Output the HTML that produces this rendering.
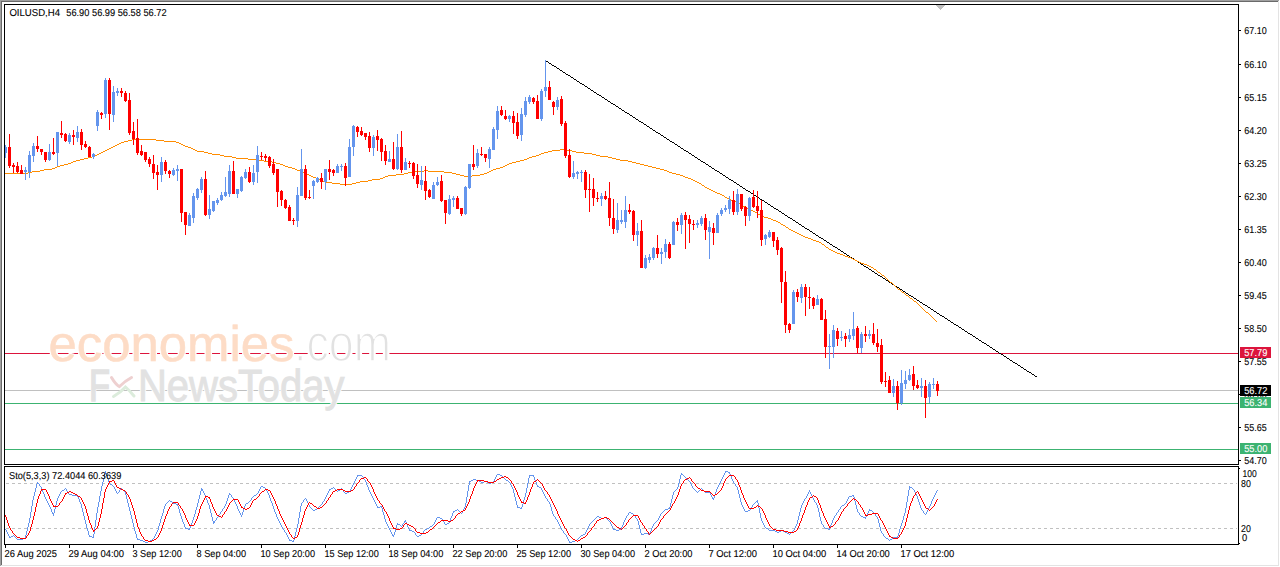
<!DOCTYPE html>
<html><head><meta charset="utf-8"><style>
html,body{margin:0;padding:0;background:#fff;width:1280px;height:567px;overflow:hidden}
svg{display:block;font-family:"Liberation Sans", sans-serif}
</style></head><body>
<svg width="1280" height="567" viewBox="0 0 1280 567" shape-rendering="crispEdges">
<rect x="0" y="0" width="1279" height="1" fill="#a0a0a0"/>
<rect x="1" y="1" width="1277" height="1" fill="#6a6a6a"/>
<rect x="0" y="0" width="1" height="566" fill="#a0a0a0"/>
<rect x="1" y="1" width="1" height="564" fill="#6a6a6a"/>
<rect x="1278" y="1" width="1" height="565" fill="#e3e3e3"/>
<rect x="1" y="565" width="1278" height="1" fill="#e3e3e3"/>
<rect x="5" y="353" width="1233" height="1" fill="#dc143c"/>
<rect x="5" y="390" width="1233" height="1" fill="#c0c0c0"/>
<rect x="5" y="403" width="1233" height="1" fill="#3cb371"/>
<rect x="5" y="449" width="1233" height="1" fill="#3cb371"/>
<g font-family="Liberation Sans, sans-serif" text-rendering="geometricPrecision" shape-rendering="auto">
<text x="48.5" y="361" font-size="50" font-weight="normal" fill="#fff" stroke="#fff" stroke-width="3" stroke-linejoin="round" textLength="246" lengthAdjust="spacingAndGlyphs">economies</text>
<text x="48.5" y="361" font-size="50" font-weight="normal" fill="#fddcc6" stroke="#fddcc6" stroke-width="0.5" textLength="246" lengthAdjust="spacingAndGlyphs">economies</text>
<text x="294" y="361" font-size="52" font-weight="normal" fill="#fff" stroke="#fff" stroke-width="3" stroke-linejoin="round" textLength="97" lengthAdjust="spacingAndGlyphs">.com</text>
<text x="294" y="361" font-size="52" font-weight="normal" fill="#e2e2e2" textLength="97" lengthAdjust="spacingAndGlyphs">.com</text>
<text x="294" y="361" font-size="52" font-weight="normal" fill="none" stroke="#fff" stroke-width="1.6" textLength="97" lengthAdjust="spacingAndGlyphs">.com</text>
<text x="89" y="400.5" font-size="45" font-weight="normal" fill="#fff" stroke="#fff" stroke-width="3" stroke-linejoin="round" textLength="21" lengthAdjust="spacingAndGlyphs">F</text>
<text x="89" y="400.5" font-size="45" font-weight="normal" fill="#e2e2e2" stroke="#e2e2e2" stroke-width="1.6" textLength="21" lengthAdjust="spacingAndGlyphs">F</text>
<text x="138" y="400.5" font-size="45" font-weight="normal" fill="#fff" stroke="#fff" stroke-width="3" stroke-linejoin="round" textLength="206.5" lengthAdjust="spacingAndGlyphs">NewsToday</text>
<text x="138" y="400.5" font-size="45" font-weight="normal" fill="#e2e2e2" stroke="#e2e2e2" stroke-width="0.9" textLength="206.5" lengthAdjust="spacingAndGlyphs">NewsToday</text>
<path d="M111.5 377.5 Q116 385 119.5 386.5 Q125 381 131.5 377.5" stroke="#eed0d0" stroke-width="3" stroke-linecap="round" fill="none"/>
<path d="M113.5 396.5 Q121 392 125.5 387 Q130 391 134 396" stroke="#dcecdc" stroke-width="3" stroke-linecap="round" fill="none"/>
</g>
<path d="M545 60h1v1h-1zM546 61h2v1h-2zM548 62h1v1h-1zM549 63h2v1h-2zM551 64h1v1h-1zM552 65h2v1h-2zM554 66h2v1h-2zM556 67h1v1h-1zM557 68h2v1h-2zM559 69h1v1h-1zM560 70h2v1h-2zM562 71h1v1h-1zM563 72h2v1h-2zM565 73h1v1h-1zM566 74h2v1h-2zM568 75h2v1h-2zM570 76h1v1h-1zM571 77h2v1h-2zM573 78h1v1h-1zM574 79h2v1h-2zM576 80h1v1h-1zM577 81h2v1h-2zM579 82h1v1h-1zM580 83h2v1h-2zM582 84h2v1h-2zM584 85h1v1h-1zM585 86h2v1h-2zM587 87h1v1h-1zM588 88h2v1h-2zM590 89h1v1h-1zM591 90h2v1h-2zM593 91h1v1h-1zM594 92h2v1h-2zM596 93h1v1h-1zM597 94h2v1h-2zM599 95h2v1h-2zM601 96h1v1h-1zM602 97h2v1h-2zM604 98h1v1h-1zM605 99h2v1h-2zM607 100h1v1h-1zM608 101h2v1h-2zM610 102h1v1h-1zM611 103h2v1h-2zM613 104h2v1h-2zM615 105h1v1h-1zM616 106h2v1h-2zM618 107h1v1h-1zM619 108h2v1h-2zM621 109h1v1h-1zM622 110h2v1h-2zM624 111h1v1h-1zM625 112h2v1h-2zM627 113h2v1h-2zM629 114h1v1h-1zM630 115h2v1h-2zM632 116h1v1h-1zM633 117h2v1h-2zM635 118h1v1h-1zM636 119h2v1h-2zM638 120h1v1h-1zM639 121h2v1h-2zM641 122h2v1h-2zM643 123h1v1h-1zM644 124h2v1h-2zM646 125h1v1h-1zM647 126h2v1h-2zM649 127h1v1h-1zM650 128h2v1h-2zM652 129h1v1h-1zM653 130h2v1h-2zM655 131h1v1h-1zM656 132h2v1h-2zM658 133h2v1h-2zM660 134h1v1h-1zM661 135h2v1h-2zM663 136h1v1h-1zM664 137h2v1h-2zM666 138h1v1h-1zM667 139h2v1h-2zM669 140h1v1h-1zM670 141h2v1h-2zM672 142h2v1h-2zM674 143h1v1h-1zM675 144h2v1h-2zM677 145h1v1h-1zM678 146h2v1h-2zM680 147h1v1h-1zM681 148h2v1h-2zM683 149h1v1h-1zM684 150h2v1h-2zM686 151h2v1h-2zM688 152h1v1h-1zM689 153h2v1h-2zM691 154h1v1h-1zM692 155h2v1h-2zM694 156h1v1h-1zM695 157h2v1h-2zM697 158h1v1h-1zM698 159h2v1h-2zM700 160h1v1h-1zM701 161h2v1h-2zM703 162h2v1h-2zM705 163h1v1h-1zM706 164h2v1h-2zM708 165h1v1h-1zM709 166h2v1h-2zM711 167h1v1h-1zM712 168h2v1h-2zM714 169h1v1h-1zM715 170h2v1h-2zM717 171h2v1h-2zM719 172h1v1h-1zM720 173h2v1h-2zM722 174h1v1h-1zM723 175h2v1h-2zM725 176h1v1h-1zM726 177h2v1h-2zM728 178h1v1h-1zM729 179h2v1h-2zM731 180h2v1h-2zM733 181h1v1h-1zM734 182h2v1h-2zM736 183h1v1h-1zM737 184h2v1h-2zM739 185h1v1h-1zM740 186h2v1h-2zM742 187h1v1h-1zM743 188h2v1h-2zM745 189h1v1h-1zM746 190h2v1h-2zM748 191h2v1h-2zM750 192h1v1h-1zM751 193h2v1h-2zM753 194h1v1h-1zM754 195h2v1h-2zM756 196h1v1h-1zM757 197h2v1h-2zM759 198h1v1h-1zM760 199h2v1h-2zM762 200h2v1h-2zM764 201h1v1h-1zM765 202h2v1h-2zM767 203h1v1h-1zM768 204h2v1h-2zM770 205h1v1h-1zM771 206h2v1h-2zM773 207h1v1h-1zM774 208h2v1h-2zM776 209h2v1h-2zM778 210h1v1h-1zM779 211h2v1h-2zM781 212h1v1h-1zM782 213h2v1h-2zM784 214h1v1h-1zM785 215h2v1h-2zM787 216h1v1h-1zM788 217h2v1h-2zM790 218h2v1h-2zM792 219h1v1h-1zM793 220h2v1h-2zM795 221h1v1h-1zM796 222h2v1h-2zM798 223h1v1h-1zM799 224h2v1h-2zM801 225h1v1h-1zM802 226h2v1h-2zM804 227h1v1h-1zM805 228h2v1h-2zM807 229h2v1h-2zM809 230h1v1h-1zM810 231h2v1h-2zM812 232h1v1h-1zM813 233h2v1h-2zM815 234h1v1h-1zM816 235h2v1h-2zM818 236h1v1h-1zM819 237h2v1h-2zM821 238h2v1h-2zM823 239h1v1h-1zM824 240h2v1h-2zM826 241h1v1h-1zM827 242h2v1h-2zM829 243h1v1h-1zM830 244h2v1h-2zM832 245h1v1h-1zM833 246h2v1h-2zM835 247h2v1h-2zM837 248h1v1h-1zM838 249h2v1h-2zM840 250h1v1h-1zM841 251h2v1h-2zM843 252h1v1h-1zM844 253h2v1h-2zM846 254h1v1h-1zM847 255h2v1h-2zM849 256h1v1h-1zM850 257h2v1h-2zM852 258h2v1h-2zM854 259h1v1h-1zM855 260h2v1h-2zM857 261h1v1h-1zM858 262h2v1h-2zM860 263h1v1h-1zM861 264h2v1h-2zM863 265h1v1h-1zM864 266h2v1h-2zM866 267h2v1h-2zM868 268h1v1h-1zM869 269h2v1h-2zM871 270h1v1h-1zM872 271h2v1h-2zM874 272h1v1h-1zM875 273h2v1h-2zM877 274h1v1h-1zM878 275h2v1h-2zM880 276h2v1h-2zM882 277h1v1h-1zM883 278h2v1h-2zM885 279h1v1h-1zM886 280h2v1h-2zM888 281h1v1h-1zM889 282h2v1h-2zM891 283h1v1h-1zM892 284h2v1h-2zM894 285h1v1h-1zM895 286h2v1h-2zM897 287h2v1h-2zM899 288h1v1h-1zM900 289h2v1h-2zM902 290h1v1h-1zM903 291h2v1h-2zM905 292h1v1h-1zM906 293h2v1h-2zM908 294h1v1h-1zM909 295h2v1h-2zM911 296h2v1h-2zM913 297h1v1h-1zM914 298h2v1h-2zM916 299h1v1h-1zM917 300h2v1h-2zM919 301h1v1h-1zM920 302h2v1h-2zM922 303h1v1h-1zM923 304h2v1h-2zM925 305h2v1h-2zM927 306h1v1h-1zM928 307h2v1h-2zM930 308h1v1h-1zM931 309h2v1h-2zM933 310h1v1h-1zM934 311h2v1h-2zM936 312h1v1h-1zM937 313h2v1h-2zM939 314h1v1h-1zM940 315h2v1h-2zM942 316h2v1h-2zM944 317h1v1h-1zM945 318h2v1h-2zM947 319h1v1h-1zM948 320h2v1h-2zM950 321h1v1h-1zM951 322h2v1h-2zM953 323h1v1h-1zM954 324h2v1h-2zM956 325h2v1h-2zM958 326h1v1h-1zM959 327h2v1h-2zM961 328h1v1h-1zM962 329h2v1h-2zM964 330h1v1h-1zM965 331h2v1h-2zM967 332h1v1h-1zM968 333h2v1h-2zM970 334h2v1h-2zM972 335h1v1h-1zM973 336h2v1h-2zM975 337h1v1h-1zM976 338h2v1h-2zM978 339h1v1h-1zM979 340h2v1h-2zM981 341h1v1h-1zM982 342h2v1h-2zM984 343h2v1h-2zM986 344h1v1h-1zM987 345h2v1h-2zM989 346h1v1h-1zM990 347h2v1h-2zM992 348h1v1h-1zM993 349h2v1h-2zM995 350h1v1h-1zM996 351h2v1h-2zM998 352h1v1h-1zM999 353h2v1h-2zM1001 354h2v1h-2zM1003 355h1v1h-1zM1004 356h2v1h-2zM1006 357h1v1h-1zM1007 358h2v1h-2zM1009 359h1v1h-1zM1010 360h2v1h-2zM1012 361h1v1h-1zM1013 362h2v1h-2zM1015 363h2v1h-2zM1017 364h1v1h-1zM1018 365h2v1h-2zM1020 366h1v1h-1zM1021 367h2v1h-2zM1023 368h1v1h-1zM1024 369h2v1h-2zM1026 370h1v1h-1zM1027 371h2v1h-2zM1029 372h2v1h-2zM1031 373h1v1h-1zM1032 374h2v1h-2zM1034 375h1v1h-1zM1035 376h2v1h-2z" fill="#000"/>
<path d="M132 139h24v1h-24zM128 140h4v1h-4zM156 140h8v1h-8zM124 141h4v1h-4zM164 141h12v1h-12zM121 142h3v1h-3zM176 142h3v1h-3zM119 143h2v1h-2zM179 143h2v1h-2zM117 144h2v1h-2zM181 144h2v1h-2zM115 145h2v1h-2zM183 145h2v1h-2zM113 146h2v1h-2zM185 146h3v1h-3zM111 147h2v1h-2zM188 147h3v1h-3zM109 148h2v1h-2zM191 148h2v1h-2zM107 149h2v1h-2zM193 149h2v1h-2zM560 149h4v1h-4zM105 150h2v1h-2zM195 150h2v1h-2zM552 150h8v1h-8zM564 150h8v1h-8zM103 151h2v1h-2zM197 151h7v1h-7zM548 151h4v1h-4zM572 151h4v1h-4zM101 152h2v1h-2zM204 152h4v1h-4zM544 152h4v1h-4zM576 152h8v1h-8zM99 153h2v1h-2zM208 153h4v1h-4zM541 153h3v1h-3zM584 153h8v1h-8zM97 154h2v1h-2zM212 154h8v1h-8zM539 154h2v1h-2zM592 154h4v1h-4zM95 155h2v1h-2zM220 155h4v1h-4zM536 155h3v1h-3zM596 155h4v1h-4zM92 156h3v1h-3zM224 156h8v1h-8zM532 156h4v1h-4zM600 156h8v1h-8zM88 157h4v1h-4zM232 157h4v1h-4zM529 157h3v1h-3zM608 157h4v1h-4zM84 158h4v1h-4zM236 158h12v1h-12zM527 158h2v1h-2zM612 158h4v1h-4zM80 159h4v1h-4zM248 159h8v1h-8zM524 159h3v1h-3zM616 159h4v1h-4zM76 160h4v1h-4zM256 160h8v1h-8zM520 160h4v1h-4zM620 160h8v1h-8zM73 161h3v1h-3zM264 161h8v1h-8zM516 161h4v1h-4zM628 161h4v1h-4zM71 162h2v1h-2zM272 162h4v1h-4zM512 162h4v1h-4zM632 162h4v1h-4zM68 163h3v1h-3zM276 163h4v1h-4zM509 163h3v1h-3zM636 163h4v1h-4zM64 164h4v1h-4zM280 164h3v1h-3zM507 164h2v1h-2zM640 164h4v1h-4zM60 165h4v1h-4zM283 165h2v1h-2zM505 165h2v1h-2zM644 165h4v1h-4zM57 166h3v1h-3zM285 166h3v1h-3zM503 166h2v1h-2zM648 166h4v1h-4zM55 167h2v1h-2zM288 167h4v1h-4zM500 167h3v1h-3zM652 167h4v1h-4zM52 168h3v1h-3zM292 168h3v1h-3zM496 168h4v1h-4zM656 168h4v1h-4zM44 169h8v1h-8zM295 169h2v1h-2zM493 169h3v1h-3zM660 169h4v1h-4zM40 170h4v1h-4zM297 170h3v1h-3zM424 170h4v1h-4zM491 170h2v1h-2zM664 170h3v1h-3zM32 171h8v1h-8zM300 171h3v1h-3zM412 171h12v1h-12zM428 171h16v1h-16zM489 171h2v1h-2zM667 171h2v1h-2zM28 172h4v1h-4zM303 172h2v1h-2zM408 172h4v1h-4zM444 172h8v1h-8zM487 172h2v1h-2zM669 172h3v1h-3zM5 173h23v1h-23zM305 173h2v1h-2zM404 173h4v1h-4zM452 173h4v1h-4zM484 173h3v1h-3zM672 173h4v1h-4zM307 174h2v1h-2zM396 174h8v1h-8zM456 174h4v1h-4zM480 174h4v1h-4zM676 174h4v1h-4zM309 175h2v1h-2zM388 175h8v1h-8zM460 175h4v1h-4zM472 175h8v1h-8zM680 175h3v1h-3zM311 176h2v1h-2zM385 176h3v1h-3zM464 176h8v1h-8zM683 176h2v1h-2zM313 177h3v1h-3zM383 177h2v1h-2zM685 177h3v1h-3zM316 178h3v1h-3zM380 178h3v1h-3zM688 178h3v1h-3zM319 179h2v1h-2zM372 179h8v1h-8zM691 179h2v1h-2zM321 180h2v1h-2zM368 180h4v1h-4zM693 180h2v1h-2zM323 181h2v1h-2zM360 181h8v1h-8zM695 181h2v1h-2zM325 182h7v1h-7zM356 182h4v1h-4zM697 182h2v1h-2zM332 183h8v1h-8zM352 183h4v1h-4zM699 183h2v1h-2zM340 184h12v1h-12zM701 184h1v1h-1zM702 185h2v1h-2zM704 186h1v1h-1zM705 187h2v1h-2zM707 188h2v1h-2zM709 189h2v1h-2zM711 190h2v1h-2zM713 191h2v1h-2zM715 192h2v1h-2zM717 193h3v1h-3zM720 194h2v1h-2zM722 195h2v1h-2zM724 196h1v1h-1zM725 197h2v1h-2zM727 198h2v1h-2zM729 199h2v1h-2zM731 200h2v1h-2zM733 201h3v1h-3zM736 202h2v1h-2zM738 203h2v1h-2zM740 204h1v1h-1zM741 205h2v1h-2zM743 206h2v1h-2zM745 207h2v1h-2zM747 208h2v1h-2zM749 209h2v1h-2zM751 210h2v1h-2zM753 211h2v1h-2zM755 212h2v1h-2zM757 213h1v1h-1zM758 214h2v1h-2zM760 215h1v1h-1zM761 216h3v1h-3zM764 217h4v1h-4zM768 218h3v1h-3zM771 219h2v1h-2zM773 220h3v1h-3zM776 221h2v1h-2zM778 222h2v1h-2zM780 223h1v1h-1zM781 224h2v1h-2zM783 225h2v1h-2zM785 226h1v1h-1zM786 227h2v1h-2zM788 228h1v1h-1zM789 229h2v1h-2zM791 230h2v1h-2zM793 231h2v1h-2zM795 232h2v1h-2zM797 233h2v1h-2zM799 234h2v1h-2zM801 235h2v1h-2zM803 236h2v1h-2zM805 237h3v1h-3zM808 238h3v1h-3zM811 239h2v1h-2zM813 240h3v1h-3zM816 241h3v1h-3zM819 242h2v1h-2zM821 243h1v1h-1zM822 244h2v1h-2zM824 245h1v1h-1zM825 246h1v1h-1zM826 247h2v1h-2zM828 248h1v1h-1zM829 249h2v1h-2zM831 250h2v1h-2zM833 251h2v1h-2zM835 252h2v1h-2zM837 253h3v1h-3zM840 254h3v1h-3zM843 255h2v1h-2zM845 256h3v1h-3zM848 257h3v1h-3zM851 258h2v1h-2zM853 259h2v1h-2zM855 260h2v1h-2zM857 261h2v1h-2zM859 262h2v1h-2zM861 263h3v1h-3zM864 264h3v1h-3zM867 265h2v1h-2zM869 266h2v1h-2zM871 267h2v1h-2zM873 268h1v1h-1zM874 269h2v1h-2zM876 270h1v1h-1zM877 271h1v1h-1zM878 272h2v1h-2zM880 273h1v1h-1zM881 274h1v1h-1zM882 275h2v1h-2zM884 276h1v1h-1zM885 277h1v1h-1zM886 278h1v1h-1zM887 279h1v1h-1zM888 280h1v1h-1zM889 281h1v1h-1zM890 282h2v1h-2zM892 283h1v1h-1zM893 284h1v1h-1zM894 285h1v1h-1zM895 286h1v1h-1zM896 287h1v1h-1zM897 288h1v1h-1zM898 289h2v1h-2zM900 290h1v1h-1zM901 291h1v1h-1zM902 292h2v1h-2zM904 293h1v1h-1zM905 294h1v1h-1zM906 295h2v1h-2zM908 296h1v1h-1zM909 297h1v1h-1zM910 298h2v1h-2zM912 299h1v1h-1zM913 300h1v1h-1zM914 301h2v1h-2zM916 302h1v1h-1zM917 303h1v1h-1zM918 304h1v1h-1zM919 305h1v1h-1zM920 306h1v1h-1zM921 307h1v1h-1zM922 308h1v1h-1zM923 309h1v1h-1zM924 310h1v1h-1zM925 311h1v1h-1zM926 312h2v1h-2zM928 313h1v1h-1zM929 314h1v1h-1zM930 315h1v1h-1zM931 316h1v1h-1zM932 317h1v1h-1zM933 318h1v1h-1zM934 319h1v1h-1zM935 320h1v1h-1zM936 321h1v1h-1z" fill="#ff8c00"/>
<rect x="5" y="145" width="1" height="13" fill="#6495ed"/>
<rect x="4" y="147" width="3" height="6" fill="#6495ed"/>
<rect x="9" y="134" width="1" height="34" fill="#ff0000"/>
<rect x="8" y="147" width="3" height="19" fill="#ff0000"/>
<rect x="13" y="163" width="1" height="10" fill="#ff0000"/>
<rect x="12" y="165" width="3" height="2" fill="#ff0000"/>
<rect x="17" y="162" width="1" height="11" fill="#ff0000"/>
<rect x="16" y="166" width="3" height="6" fill="#ff0000"/>
<rect x="21" y="165" width="1" height="9" fill="#ff0000"/>
<rect x="20" y="170" width="3" height="4" fill="#ff0000"/>
<rect x="25" y="167" width="1" height="13" fill="#6495ed"/>
<rect x="24" y="170" width="3" height="2" fill="#6495ed"/>
<rect x="29" y="151" width="1" height="27" fill="#6495ed"/>
<rect x="28" y="155" width="3" height="17" fill="#6495ed"/>
<rect x="33" y="143" width="1" height="19" fill="#6495ed"/>
<rect x="32" y="146" width="3" height="10" fill="#6495ed"/>
<rect x="37" y="136" width="1" height="16" fill="#ff0000"/>
<rect x="36" y="146" width="3" height="3" fill="#ff0000"/>
<rect x="41" y="149" width="1" height="6" fill="#ff0000"/>
<rect x="40" y="149" width="3" height="3" fill="#ff0000"/>
<rect x="45" y="152" width="1" height="10" fill="#ff0000"/>
<rect x="44" y="152" width="3" height="8" fill="#ff0000"/>
<rect x="49" y="144" width="1" height="17" fill="#6495ed"/>
<rect x="48" y="152" width="3" height="8" fill="#6495ed"/>
<rect x="53" y="138" width="1" height="17" fill="#ff0000"/>
<rect x="52" y="152" width="3" height="2" fill="#ff0000"/>
<rect x="57" y="132" width="1" height="34" fill="#6495ed"/>
<rect x="56" y="132" width="3" height="21" fill="#6495ed"/>
<rect x="61" y="121" width="1" height="17" fill="#ff0000"/>
<rect x="60" y="133" width="3" height="2" fill="#ff0000"/>
<rect x="65" y="133" width="1" height="9" fill="#ff0000"/>
<rect x="64" y="134" width="3" height="7" fill="#ff0000"/>
<rect x="69" y="133" width="1" height="11" fill="#6495ed"/>
<rect x="68" y="135" width="3" height="7" fill="#6495ed"/>
<rect x="73" y="130" width="1" height="15" fill="#ff0000"/>
<rect x="72" y="135" width="3" height="2" fill="#ff0000"/>
<rect x="77" y="126" width="1" height="16" fill="#6495ed"/>
<rect x="76" y="132" width="3" height="6" fill="#6495ed"/>
<rect x="81" y="129" width="1" height="21" fill="#ff0000"/>
<rect x="80" y="132" width="3" height="13" fill="#ff0000"/>
<rect x="85" y="141" width="1" height="7" fill="#ff0000"/>
<rect x="84" y="144" width="3" height="3" fill="#ff0000"/>
<rect x="89" y="146" width="1" height="11" fill="#ff0000"/>
<rect x="88" y="147" width="3" height="10" fill="#ff0000"/>
<rect x="93" y="153" width="1" height="6" fill="#6495ed"/>
<rect x="92" y="154" width="3" height="3" fill="#6495ed"/>
<rect x="97" y="110" width="1" height="21" fill="#6495ed"/>
<rect x="96" y="112" width="3" height="14" fill="#6495ed"/>
<rect x="101" y="112" width="1" height="7" fill="#ff0000"/>
<rect x="100" y="113" width="3" height="2" fill="#ff0000"/>
<rect x="105" y="78" width="1" height="40" fill="#6495ed"/>
<rect x="104" y="80" width="3" height="34" fill="#6495ed"/>
<rect x="109" y="78" width="1" height="52" fill="#ff0000"/>
<rect x="108" y="80" width="3" height="34" fill="#ff0000"/>
<rect x="113" y="86" width="1" height="36" fill="#6495ed"/>
<rect x="112" y="92" width="3" height="23" fill="#6495ed"/>
<rect x="117" y="88" width="1" height="8" fill="#6495ed"/>
<rect x="116" y="91" width="3" height="2" fill="#6495ed"/>
<rect x="121" y="88" width="1" height="9" fill="#ff0000"/>
<rect x="120" y="91" width="3" height="2" fill="#ff0000"/>
<rect x="125" y="91" width="1" height="11" fill="#ff0000"/>
<rect x="124" y="93" width="3" height="8" fill="#ff0000"/>
<rect x="129" y="93" width="1" height="42" fill="#ff0000"/>
<rect x="128" y="100" width="3" height="33" fill="#ff0000"/>
<rect x="133" y="122" width="1" height="23" fill="#ff0000"/>
<rect x="132" y="131" width="3" height="8" fill="#ff0000"/>
<rect x="137" y="119" width="1" height="36" fill="#ff0000"/>
<rect x="136" y="138" width="3" height="15" fill="#ff0000"/>
<rect x="141" y="145" width="1" height="11" fill="#ff0000"/>
<rect x="140" y="151" width="3" height="4" fill="#ff0000"/>
<rect x="145" y="152" width="1" height="10" fill="#ff0000"/>
<rect x="144" y="152" width="3" height="8" fill="#ff0000"/>
<rect x="149" y="157" width="1" height="10" fill="#ff0000"/>
<rect x="148" y="159" width="3" height="5" fill="#ff0000"/>
<rect x="153" y="155" width="1" height="24" fill="#ff0000"/>
<rect x="152" y="164" width="3" height="9" fill="#ff0000"/>
<rect x="157" y="165" width="1" height="25" fill="#ff0000"/>
<rect x="156" y="172" width="3" height="3" fill="#ff0000"/>
<rect x="161" y="157" width="1" height="25" fill="#6495ed"/>
<rect x="160" y="162" width="3" height="13" fill="#6495ed"/>
<rect x="165" y="160" width="1" height="14" fill="#ff0000"/>
<rect x="164" y="162" width="3" height="9" fill="#ff0000"/>
<rect x="169" y="170" width="1" height="8" fill="#ff0000"/>
<rect x="168" y="171" width="3" height="3" fill="#ff0000"/>
<rect x="173" y="168" width="1" height="8" fill="#6495ed"/>
<rect x="172" y="170" width="3" height="5" fill="#6495ed"/>
<rect x="177" y="165" width="1" height="16" fill="#6495ed"/>
<rect x="176" y="169" width="3" height="2" fill="#6495ed"/>
<rect x="181" y="169" width="1" height="53" fill="#ff0000"/>
<rect x="180" y="169" width="3" height="44" fill="#ff0000"/>
<rect x="185" y="212" width="1" height="23" fill="#ff0000"/>
<rect x="184" y="212" width="3" height="13" fill="#ff0000"/>
<rect x="189" y="213" width="1" height="13" fill="#6495ed"/>
<rect x="188" y="215" width="3" height="11" fill="#6495ed"/>
<rect x="193" y="193" width="1" height="30" fill="#6495ed"/>
<rect x="192" y="196" width="3" height="22" fill="#6495ed"/>
<rect x="197" y="188" width="1" height="12" fill="#6495ed"/>
<rect x="196" y="189" width="3" height="9" fill="#6495ed"/>
<rect x="201" y="177" width="1" height="16" fill="#6495ed"/>
<rect x="200" y="179" width="3" height="11" fill="#6495ed"/>
<rect x="205" y="171" width="1" height="45" fill="#ff0000"/>
<rect x="204" y="179" width="3" height="36" fill="#ff0000"/>
<rect x="209" y="195" width="1" height="24" fill="#6495ed"/>
<rect x="208" y="209" width="3" height="6" fill="#6495ed"/>
<rect x="213" y="201" width="1" height="11" fill="#6495ed"/>
<rect x="212" y="201" width="3" height="10" fill="#6495ed"/>
<rect x="217" y="198" width="1" height="7" fill="#6495ed"/>
<rect x="216" y="200" width="3" height="3" fill="#6495ed"/>
<rect x="221" y="192" width="1" height="9" fill="#6495ed"/>
<rect x="220" y="195" width="3" height="5" fill="#6495ed"/>
<rect x="225" y="177" width="1" height="20" fill="#6495ed"/>
<rect x="224" y="192" width="3" height="4" fill="#6495ed"/>
<rect x="229" y="165" width="1" height="32" fill="#6495ed"/>
<rect x="228" y="171" width="3" height="23" fill="#6495ed"/>
<rect x="233" y="161" width="1" height="33" fill="#ff0000"/>
<rect x="232" y="171" width="3" height="23" fill="#ff0000"/>
<rect x="237" y="189" width="1" height="9" fill="#6495ed"/>
<rect x="236" y="189" width="3" height="5" fill="#6495ed"/>
<rect x="241" y="176" width="1" height="16" fill="#6495ed"/>
<rect x="240" y="177" width="3" height="14" fill="#6495ed"/>
<rect x="245" y="169" width="1" height="10" fill="#6495ed"/>
<rect x="244" y="172" width="3" height="6" fill="#6495ed"/>
<rect x="249" y="167" width="1" height="16" fill="#ff0000"/>
<rect x="248" y="172" width="3" height="10" fill="#ff0000"/>
<rect x="253" y="165" width="1" height="20" fill="#6495ed"/>
<rect x="252" y="173" width="3" height="9" fill="#6495ed"/>
<rect x="257" y="146" width="1" height="37" fill="#6495ed"/>
<rect x="256" y="155" width="3" height="17" fill="#6495ed"/>
<rect x="261" y="152" width="1" height="8" fill="#ff0000"/>
<rect x="260" y="156" width="3" height="1" fill="#ff0000"/>
<rect x="265" y="154" width="1" height="7" fill="#ff0000"/>
<rect x="264" y="156" width="3" height="2" fill="#ff0000"/>
<rect x="269" y="156" width="1" height="12" fill="#ff0000"/>
<rect x="268" y="157" width="3" height="9" fill="#ff0000"/>
<rect x="273" y="159" width="1" height="16" fill="#ff0000"/>
<rect x="272" y="164" width="3" height="9" fill="#ff0000"/>
<rect x="277" y="169" width="1" height="38" fill="#ff0000"/>
<rect x="276" y="169" width="3" height="23" fill="#ff0000"/>
<rect x="281" y="190" width="1" height="16" fill="#ff0000"/>
<rect x="280" y="191" width="3" height="9" fill="#ff0000"/>
<rect x="285" y="199" width="1" height="10" fill="#ff0000"/>
<rect x="284" y="200" width="3" height="8" fill="#ff0000"/>
<rect x="289" y="205" width="1" height="16" fill="#ff0000"/>
<rect x="288" y="207" width="3" height="14" fill="#ff0000"/>
<rect x="293" y="218" width="1" height="7" fill="#ff0000"/>
<rect x="292" y="220" width="3" height="1" fill="#ff0000"/>
<rect x="297" y="187" width="1" height="40" fill="#6495ed"/>
<rect x="296" y="195" width="3" height="26" fill="#6495ed"/>
<rect x="301" y="149" width="1" height="47" fill="#6495ed"/>
<rect x="300" y="169" width="3" height="27" fill="#6495ed"/>
<rect x="305" y="165" width="1" height="35" fill="#ff0000"/>
<rect x="304" y="169" width="3" height="29" fill="#ff0000"/>
<rect x="309" y="190" width="1" height="9" fill="#ff0000"/>
<rect x="308" y="197" width="3" height="1" fill="#ff0000"/>
<rect x="313" y="180" width="1" height="19" fill="#6495ed"/>
<rect x="312" y="181" width="3" height="5" fill="#6495ed"/>
<rect x="317" y="177" width="1" height="6" fill="#6495ed"/>
<rect x="316" y="178" width="3" height="4" fill="#6495ed"/>
<rect x="321" y="173" width="1" height="16" fill="#ff0000"/>
<rect x="320" y="178" width="3" height="4" fill="#ff0000"/>
<rect x="325" y="169" width="1" height="21" fill="#6495ed"/>
<rect x="324" y="169" width="3" height="13" fill="#6495ed"/>
<rect x="329" y="160" width="1" height="20" fill="#ff0000"/>
<rect x="328" y="169" width="3" height="3" fill="#ff0000"/>
<rect x="333" y="169" width="1" height="7" fill="#ff0000"/>
<rect x="332" y="170" width="3" height="3" fill="#ff0000"/>
<rect x="337" y="164" width="1" height="9" fill="#6495ed"/>
<rect x="336" y="166" width="3" height="7" fill="#6495ed"/>
<rect x="341" y="164" width="1" height="7" fill="#6495ed"/>
<rect x="340" y="166" width="3" height="1" fill="#6495ed"/>
<rect x="345" y="163" width="1" height="23" fill="#ff0000"/>
<rect x="344" y="166" width="3" height="12" fill="#ff0000"/>
<rect x="349" y="139" width="1" height="38" fill="#6495ed"/>
<rect x="348" y="147" width="3" height="30" fill="#6495ed"/>
<rect x="353" y="125" width="1" height="31" fill="#6495ed"/>
<rect x="352" y="126" width="3" height="21" fill="#6495ed"/>
<rect x="357" y="126" width="1" height="11" fill="#ff0000"/>
<rect x="356" y="127" width="3" height="5" fill="#ff0000"/>
<rect x="361" y="127" width="1" height="9" fill="#ff0000"/>
<rect x="360" y="131" width="3" height="4" fill="#ff0000"/>
<rect x="365" y="133" width="1" height="7" fill="#ff0000"/>
<rect x="364" y="133" width="3" height="4" fill="#ff0000"/>
<rect x="369" y="132" width="1" height="20" fill="#ff0000"/>
<rect x="368" y="136" width="3" height="12" fill="#ff0000"/>
<rect x="373" y="135" width="1" height="21" fill="#6495ed"/>
<rect x="372" y="137" width="3" height="11" fill="#6495ed"/>
<rect x="377" y="130" width="1" height="21" fill="#ff0000"/>
<rect x="376" y="136" width="3" height="4" fill="#ff0000"/>
<rect x="381" y="138" width="1" height="23" fill="#ff0000"/>
<rect x="380" y="139" width="3" height="13" fill="#ff0000"/>
<rect x="385" y="145" width="1" height="20" fill="#ff0000"/>
<rect x="384" y="151" width="3" height="10" fill="#ff0000"/>
<rect x="389" y="151" width="1" height="11" fill="#6495ed"/>
<rect x="388" y="159" width="3" height="3" fill="#6495ed"/>
<rect x="393" y="142" width="1" height="28" fill="#ff0000"/>
<rect x="392" y="159" width="3" height="10" fill="#ff0000"/>
<rect x="397" y="134" width="1" height="36" fill="#6495ed"/>
<rect x="396" y="147" width="3" height="22" fill="#6495ed"/>
<rect x="401" y="131" width="1" height="42" fill="#ff0000"/>
<rect x="400" y="147" width="3" height="23" fill="#ff0000"/>
<rect x="405" y="158" width="1" height="12" fill="#6495ed"/>
<rect x="404" y="162" width="3" height="8" fill="#6495ed"/>
<rect x="409" y="161" width="1" height="7" fill="#ff0000"/>
<rect x="408" y="163" width="3" height="1" fill="#ff0000"/>
<rect x="413" y="162" width="1" height="17" fill="#ff0000"/>
<rect x="412" y="163" width="3" height="13" fill="#ff0000"/>
<rect x="417" y="164" width="1" height="24" fill="#ff0000"/>
<rect x="416" y="175" width="3" height="9" fill="#ff0000"/>
<rect x="421" y="166" width="1" height="24" fill="#6495ed"/>
<rect x="420" y="180" width="3" height="5" fill="#6495ed"/>
<rect x="425" y="166" width="1" height="34" fill="#ff0000"/>
<rect x="424" y="181" width="3" height="10" fill="#ff0000"/>
<rect x="429" y="189" width="1" height="9" fill="#ff0000"/>
<rect x="428" y="190" width="3" height="7" fill="#ff0000"/>
<rect x="433" y="182" width="1" height="17" fill="#6495ed"/>
<rect x="432" y="185" width="3" height="14" fill="#6495ed"/>
<rect x="437" y="177" width="1" height="9" fill="#6495ed"/>
<rect x="436" y="182" width="3" height="3" fill="#6495ed"/>
<rect x="441" y="175" width="1" height="27" fill="#ff0000"/>
<rect x="440" y="181" width="3" height="20" fill="#ff0000"/>
<rect x="445" y="200" width="1" height="24" fill="#ff0000"/>
<rect x="444" y="200" width="3" height="13" fill="#ff0000"/>
<rect x="449" y="195" width="1" height="20" fill="#6495ed"/>
<rect x="448" y="199" width="3" height="15" fill="#6495ed"/>
<rect x="453" y="196" width="1" height="11" fill="#6495ed"/>
<rect x="452" y="198" width="3" height="2" fill="#6495ed"/>
<rect x="457" y="196" width="1" height="13" fill="#ff0000"/>
<rect x="456" y="198" width="3" height="11" fill="#ff0000"/>
<rect x="461" y="208" width="1" height="8" fill="#ff0000"/>
<rect x="460" y="208" width="3" height="6" fill="#ff0000"/>
<rect x="465" y="186" width="1" height="29" fill="#6495ed"/>
<rect x="464" y="187" width="3" height="27" fill="#6495ed"/>
<rect x="469" y="164" width="1" height="25" fill="#6495ed"/>
<rect x="468" y="164" width="3" height="24" fill="#6495ed"/>
<rect x="473" y="145" width="1" height="25" fill="#ff0000"/>
<rect x="472" y="164" width="3" height="3" fill="#ff0000"/>
<rect x="477" y="149" width="1" height="19" fill="#6495ed"/>
<rect x="476" y="153" width="3" height="13" fill="#6495ed"/>
<rect x="481" y="147" width="1" height="9" fill="#ff0000"/>
<rect x="480" y="154" width="3" height="1" fill="#ff0000"/>
<rect x="485" y="154" width="1" height="8" fill="#ff0000"/>
<rect x="484" y="154" width="3" height="4" fill="#ff0000"/>
<rect x="489" y="147" width="1" height="21" fill="#6495ed"/>
<rect x="488" y="149" width="3" height="10" fill="#6495ed"/>
<rect x="493" y="127" width="1" height="23" fill="#6495ed"/>
<rect x="492" y="129" width="3" height="21" fill="#6495ed"/>
<rect x="497" y="106" width="1" height="33" fill="#6495ed"/>
<rect x="496" y="111" width="3" height="19" fill="#6495ed"/>
<rect x="501" y="106" width="1" height="10" fill="#ff0000"/>
<rect x="500" y="110" width="3" height="5" fill="#ff0000"/>
<rect x="505" y="110" width="1" height="10" fill="#ff0000"/>
<rect x="504" y="116" width="3" height="3" fill="#ff0000"/>
<rect x="509" y="115" width="1" height="7" fill="#6495ed"/>
<rect x="508" y="116" width="3" height="3" fill="#6495ed"/>
<rect x="513" y="111" width="1" height="23" fill="#ff0000"/>
<rect x="512" y="116" width="3" height="7" fill="#ff0000"/>
<rect x="517" y="113" width="1" height="26" fill="#ff0000"/>
<rect x="516" y="122" width="3" height="14" fill="#ff0000"/>
<rect x="521" y="108" width="1" height="33" fill="#6495ed"/>
<rect x="520" y="114" width="3" height="21" fill="#6495ed"/>
<rect x="525" y="97" width="1" height="20" fill="#6495ed"/>
<rect x="524" y="101" width="3" height="14" fill="#6495ed"/>
<rect x="529" y="95" width="1" height="9" fill="#6495ed"/>
<rect x="528" y="97" width="3" height="5" fill="#6495ed"/>
<rect x="533" y="97" width="1" height="7" fill="#ff0000"/>
<rect x="532" y="98" width="3" height="4" fill="#ff0000"/>
<rect x="537" y="95" width="1" height="24" fill="#ff0000"/>
<rect x="536" y="101" width="3" height="18" fill="#ff0000"/>
<rect x="541" y="89" width="1" height="32" fill="#6495ed"/>
<rect x="540" y="91" width="3" height="28" fill="#6495ed"/>
<rect x="545" y="60" width="1" height="37" fill="#6495ed"/>
<rect x="544" y="87" width="3" height="4" fill="#6495ed"/>
<rect x="549" y="81" width="1" height="19" fill="#ff0000"/>
<rect x="548" y="87" width="3" height="13" fill="#ff0000"/>
<rect x="553" y="101" width="1" height="14" fill="#ff0000"/>
<rect x="552" y="102" width="3" height="5" fill="#ff0000"/>
<rect x="557" y="97" width="1" height="13" fill="#6495ed"/>
<rect x="556" y="100" width="3" height="7" fill="#6495ed"/>
<rect x="561" y="96" width="1" height="30" fill="#ff0000"/>
<rect x="560" y="99" width="3" height="25" fill="#ff0000"/>
<rect x="565" y="121" width="1" height="37" fill="#ff0000"/>
<rect x="564" y="123" width="3" height="33" fill="#ff0000"/>
<rect x="569" y="149" width="1" height="29" fill="#ff0000"/>
<rect x="568" y="155" width="3" height="22" fill="#ff0000"/>
<rect x="573" y="161" width="1" height="18" fill="#6495ed"/>
<rect x="572" y="173" width="3" height="4" fill="#6495ed"/>
<rect x="577" y="171" width="1" height="8" fill="#6495ed"/>
<rect x="576" y="172" width="3" height="2" fill="#6495ed"/>
<rect x="581" y="170" width="1" height="12" fill="#6495ed"/>
<rect x="580" y="172" width="3" height="1" fill="#6495ed"/>
<rect x="585" y="170" width="1" height="28" fill="#ff0000"/>
<rect x="584" y="172" width="3" height="18" fill="#ff0000"/>
<rect x="589" y="174" width="1" height="38" fill="#ff0000"/>
<rect x="588" y="189" width="3" height="1" fill="#ff0000"/>
<rect x="593" y="178" width="1" height="28" fill="#ff0000"/>
<rect x="592" y="189" width="3" height="9" fill="#ff0000"/>
<rect x="597" y="192" width="1" height="10" fill="#ff0000"/>
<rect x="596" y="198" width="3" height="1" fill="#ff0000"/>
<rect x="601" y="193" width="1" height="13" fill="#6495ed"/>
<rect x="600" y="196" width="3" height="3" fill="#6495ed"/>
<rect x="605" y="191" width="1" height="9" fill="#ff0000"/>
<rect x="604" y="196" width="3" height="3" fill="#ff0000"/>
<rect x="609" y="182" width="1" height="44" fill="#ff0000"/>
<rect x="608" y="198" width="3" height="20" fill="#ff0000"/>
<rect x="613" y="199" width="1" height="35" fill="#ff0000"/>
<rect x="612" y="218" width="3" height="11" fill="#ff0000"/>
<rect x="617" y="203" width="1" height="30" fill="#6495ed"/>
<rect x="616" y="220" width="3" height="10" fill="#6495ed"/>
<rect x="621" y="210" width="1" height="14" fill="#6495ed"/>
<rect x="620" y="220" width="3" height="2" fill="#6495ed"/>
<rect x="625" y="196" width="1" height="32" fill="#6495ed"/>
<rect x="624" y="210" width="3" height="12" fill="#6495ed"/>
<rect x="629" y="204" width="1" height="10" fill="#ff0000"/>
<rect x="628" y="210" width="3" height="2" fill="#ff0000"/>
<rect x="633" y="210" width="1" height="31" fill="#ff0000"/>
<rect x="632" y="211" width="3" height="24" fill="#ff0000"/>
<rect x="637" y="223" width="1" height="23" fill="#6495ed"/>
<rect x="636" y="231" width="3" height="4" fill="#6495ed"/>
<rect x="641" y="220" width="1" height="48" fill="#ff0000"/>
<rect x="640" y="231" width="3" height="37" fill="#ff0000"/>
<rect x="645" y="255" width="1" height="14" fill="#6495ed"/>
<rect x="644" y="258" width="3" height="10" fill="#6495ed"/>
<rect x="649" y="254" width="1" height="9" fill="#6495ed"/>
<rect x="648" y="257" width="3" height="3" fill="#6495ed"/>
<rect x="653" y="247" width="1" height="13" fill="#6495ed"/>
<rect x="652" y="248" width="3" height="10" fill="#6495ed"/>
<rect x="657" y="235" width="1" height="23" fill="#ff0000"/>
<rect x="656" y="248" width="3" height="6" fill="#ff0000"/>
<rect x="661" y="248" width="1" height="16" fill="#6495ed"/>
<rect x="660" y="252" width="3" height="2" fill="#6495ed"/>
<rect x="665" y="239" width="1" height="19" fill="#6495ed"/>
<rect x="664" y="244" width="3" height="8" fill="#6495ed"/>
<rect x="669" y="242" width="1" height="17" fill="#ff0000"/>
<rect x="668" y="244" width="3" height="14" fill="#ff0000"/>
<rect x="673" y="221" width="1" height="24" fill="#6495ed"/>
<rect x="672" y="222" width="3" height="23" fill="#6495ed"/>
<rect x="677" y="218" width="1" height="13" fill="#ff0000"/>
<rect x="676" y="222" width="3" height="3" fill="#ff0000"/>
<rect x="681" y="213" width="1" height="21" fill="#6495ed"/>
<rect x="680" y="215" width="3" height="10" fill="#6495ed"/>
<rect x="685" y="212" width="1" height="37" fill="#ff0000"/>
<rect x="684" y="215" width="3" height="5" fill="#ff0000"/>
<rect x="689" y="215" width="1" height="28" fill="#ff0000"/>
<rect x="688" y="219" width="3" height="5" fill="#ff0000"/>
<rect x="693" y="220" width="1" height="10" fill="#ff0000"/>
<rect x="692" y="224" width="3" height="1" fill="#ff0000"/>
<rect x="697" y="220" width="1" height="8" fill="#6495ed"/>
<rect x="696" y="223" width="3" height="2" fill="#6495ed"/>
<rect x="701" y="216" width="1" height="10" fill="#6495ed"/>
<rect x="700" y="218" width="3" height="6" fill="#6495ed"/>
<rect x="705" y="214" width="1" height="26" fill="#ff0000"/>
<rect x="704" y="218" width="3" height="12" fill="#ff0000"/>
<rect x="709" y="221" width="1" height="38" fill="#6495ed"/>
<rect x="708" y="227" width="3" height="5" fill="#6495ed"/>
<rect x="713" y="223" width="1" height="22" fill="#ff0000"/>
<rect x="712" y="228" width="3" height="5" fill="#ff0000"/>
<rect x="717" y="213" width="1" height="20" fill="#6495ed"/>
<rect x="716" y="215" width="3" height="18" fill="#6495ed"/>
<rect x="721" y="208" width="1" height="8" fill="#6495ed"/>
<rect x="720" y="210" width="3" height="4" fill="#6495ed"/>
<rect x="725" y="205" width="1" height="7" fill="#6495ed"/>
<rect x="724" y="208" width="3" height="2" fill="#6495ed"/>
<rect x="729" y="196" width="1" height="18" fill="#6495ed"/>
<rect x="728" y="200" width="3" height="9" fill="#6495ed"/>
<rect x="733" y="191" width="1" height="24" fill="#ff0000"/>
<rect x="732" y="200" width="3" height="12" fill="#ff0000"/>
<rect x="737" y="189" width="1" height="26" fill="#6495ed"/>
<rect x="736" y="194" width="3" height="18" fill="#6495ed"/>
<rect x="741" y="194" width="1" height="17" fill="#ff0000"/>
<rect x="740" y="194" width="3" height="15" fill="#ff0000"/>
<rect x="745" y="206" width="1" height="20" fill="#ff0000"/>
<rect x="744" y="207" width="3" height="9" fill="#ff0000"/>
<rect x="749" y="197" width="1" height="24" fill="#6495ed"/>
<rect x="748" y="198" width="3" height="18" fill="#6495ed"/>
<rect x="753" y="190" width="1" height="18" fill="#ff0000"/>
<rect x="752" y="197" width="3" height="10" fill="#ff0000"/>
<rect x="757" y="191" width="1" height="27" fill="#ff0000"/>
<rect x="756" y="206" width="3" height="5" fill="#ff0000"/>
<rect x="761" y="200" width="1" height="46" fill="#ff0000"/>
<rect x="760" y="210" width="3" height="30" fill="#ff0000"/>
<rect x="765" y="234" width="1" height="11" fill="#6495ed"/>
<rect x="764" y="235" width="3" height="4" fill="#6495ed"/>
<rect x="769" y="230" width="1" height="8" fill="#6495ed"/>
<rect x="768" y="232" width="3" height="5" fill="#6495ed"/>
<rect x="773" y="232" width="1" height="15" fill="#ff0000"/>
<rect x="772" y="232" width="3" height="9" fill="#ff0000"/>
<rect x="777" y="237" width="1" height="18" fill="#ff0000"/>
<rect x="776" y="240" width="3" height="10" fill="#ff0000"/>
<rect x="781" y="247" width="1" height="56" fill="#ff0000"/>
<rect x="780" y="248" width="3" height="34" fill="#ff0000"/>
<rect x="785" y="271" width="1" height="62" fill="#ff0000"/>
<rect x="784" y="282" width="3" height="43" fill="#ff0000"/>
<rect x="789" y="323" width="1" height="10" fill="#ff0000"/>
<rect x="788" y="324" width="3" height="6" fill="#ff0000"/>
<rect x="793" y="290" width="1" height="34" fill="#6495ed"/>
<rect x="792" y="292" width="3" height="32" fill="#6495ed"/>
<rect x="797" y="289" width="1" height="13" fill="#ff0000"/>
<rect x="796" y="292" width="3" height="5" fill="#ff0000"/>
<rect x="801" y="284" width="1" height="19" fill="#6495ed"/>
<rect x="800" y="287" width="3" height="11" fill="#6495ed"/>
<rect x="805" y="284" width="1" height="32" fill="#ff0000"/>
<rect x="804" y="287" width="3" height="10" fill="#ff0000"/>
<rect x="809" y="287" width="1" height="22" fill="#ff0000"/>
<rect x="808" y="297" width="3" height="1" fill="#ff0000"/>
<rect x="813" y="297" width="1" height="12" fill="#ff0000"/>
<rect x="812" y="298" width="3" height="8" fill="#ff0000"/>
<rect x="817" y="295" width="1" height="10" fill="#6495ed"/>
<rect x="816" y="299" width="3" height="6" fill="#6495ed"/>
<rect x="821" y="298" width="1" height="22" fill="#ff0000"/>
<rect x="820" y="299" width="3" height="21" fill="#ff0000"/>
<rect x="825" y="310" width="1" height="48" fill="#ff0000"/>
<rect x="824" y="319" width="3" height="28" fill="#ff0000"/>
<rect x="829" y="334" width="1" height="35" fill="#6495ed"/>
<rect x="828" y="346" width="3" height="1" fill="#6495ed"/>
<rect x="833" y="325" width="1" height="33" fill="#6495ed"/>
<rect x="832" y="330" width="3" height="17" fill="#6495ed"/>
<rect x="837" y="328" width="1" height="18" fill="#ff0000"/>
<rect x="836" y="331" width="3" height="8" fill="#ff0000"/>
<rect x="841" y="331" width="1" height="10" fill="#6495ed"/>
<rect x="840" y="337" width="3" height="1" fill="#6495ed"/>
<rect x="845" y="333" width="1" height="14" fill="#ff0000"/>
<rect x="844" y="336" width="3" height="3" fill="#ff0000"/>
<rect x="849" y="329" width="1" height="13" fill="#6495ed"/>
<rect x="848" y="335" width="3" height="4" fill="#6495ed"/>
<rect x="853" y="312" width="1" height="28" fill="#6495ed"/>
<rect x="852" y="329" width="3" height="7" fill="#6495ed"/>
<rect x="857" y="326" width="1" height="27" fill="#ff0000"/>
<rect x="856" y="328" width="3" height="20" fill="#ff0000"/>
<rect x="861" y="332" width="1" height="21" fill="#6495ed"/>
<rect x="860" y="334" width="3" height="14" fill="#6495ed"/>
<rect x="865" y="326" width="1" height="16" fill="#ff0000"/>
<rect x="864" y="334" width="3" height="2" fill="#ff0000"/>
<rect x="869" y="330" width="1" height="9" fill="#6495ed"/>
<rect x="868" y="334" width="3" height="2" fill="#6495ed"/>
<rect x="873" y="323" width="1" height="22" fill="#ff0000"/>
<rect x="872" y="334" width="3" height="9" fill="#ff0000"/>
<rect x="877" y="329" width="1" height="23" fill="#ff0000"/>
<rect x="876" y="343" width="3" height="4" fill="#ff0000"/>
<rect x="881" y="339" width="1" height="45" fill="#ff0000"/>
<rect x="880" y="345" width="3" height="37" fill="#ff0000"/>
<rect x="885" y="372" width="1" height="15" fill="#ff0000"/>
<rect x="884" y="381" width="3" height="1" fill="#ff0000"/>
<rect x="889" y="376" width="1" height="17" fill="#ff0000"/>
<rect x="888" y="380" width="3" height="13" fill="#ff0000"/>
<rect x="893" y="379" width="1" height="18" fill="#6495ed"/>
<rect x="892" y="386" width="3" height="7" fill="#6495ed"/>
<rect x="897" y="381" width="1" height="29" fill="#ff0000"/>
<rect x="896" y="386" width="3" height="17" fill="#ff0000"/>
<rect x="901" y="370" width="1" height="35" fill="#6495ed"/>
<rect x="900" y="383" width="3" height="20" fill="#6495ed"/>
<rect x="905" y="371" width="1" height="18" fill="#6495ed"/>
<rect x="904" y="380" width="3" height="4" fill="#6495ed"/>
<rect x="909" y="369" width="1" height="12" fill="#6495ed"/>
<rect x="908" y="375" width="3" height="5" fill="#6495ed"/>
<rect x="913" y="366" width="1" height="24" fill="#ff0000"/>
<rect x="912" y="374" width="3" height="12" fill="#ff0000"/>
<rect x="917" y="380" width="1" height="9" fill="#ff0000"/>
<rect x="916" y="385" width="3" height="3" fill="#ff0000"/>
<rect x="921" y="378" width="1" height="19" fill="#6495ed"/>
<rect x="920" y="386" width="3" height="2" fill="#6495ed"/>
<rect x="925" y="380" width="1" height="38" fill="#ff0000"/>
<rect x="924" y="386" width="3" height="12" fill="#ff0000"/>
<rect x="929" y="382" width="1" height="21" fill="#6495ed"/>
<rect x="928" y="384" width="3" height="13" fill="#6495ed"/>
<rect x="933" y="378" width="1" height="11" fill="#6495ed"/>
<rect x="932" y="384" width="3" height="1" fill="#6495ed"/>
<rect x="937" y="381" width="1" height="15" fill="#ff0000"/>
<rect x="936" y="384" width="3" height="7" fill="#ff0000"/>
<rect x="2" y="2" width="2" height="563" fill="#fff"/>
<rect x="4" y="4" width="1235" height="1" fill="#000"/>
<rect x="4" y="464" width="1235" height="1" fill="#000"/>
<rect x="4" y="4" width="1" height="461" fill="#000"/>
<rect x="1238" y="4" width="1" height="461" fill="#000"/>
<rect x="4" y="466" width="1235" height="1" fill="#000"/>
<rect x="4" y="544" width="1235" height="1" fill="#000"/>
<rect x="4" y="466" width="1" height="79" fill="#000"/>
<rect x="1238" y="466" width="1" height="79" fill="#000"/>
<polygon points="935.5,5 945.5,5 940.5,10" fill="#c0c0c0"/>
<rect x="1239" y="30" width="2" height="1" fill="#000"/>
<text x="1244.3" y="34" font-size="10" fill="#000" stroke="#000" stroke-width="0.1" text-rendering="geometricPrecision" textLength="22.5" lengthAdjust="spacingAndGlyphs">67.10</text>
<rect x="1239" y="64" width="2" height="1" fill="#000"/>
<text x="1244.3" y="68" font-size="10" fill="#000" stroke="#000" stroke-width="0.1" text-rendering="geometricPrecision" textLength="22.5" lengthAdjust="spacingAndGlyphs">66.10</text>
<rect x="1239" y="97" width="2" height="1" fill="#000"/>
<text x="1244.3" y="101" font-size="10" fill="#000" stroke="#000" stroke-width="0.1" text-rendering="geometricPrecision" textLength="22.5" lengthAdjust="spacingAndGlyphs">65.15</text>
<rect x="1239" y="130" width="2" height="1" fill="#000"/>
<text x="1244.3" y="134" font-size="10" fill="#000" stroke="#000" stroke-width="0.1" text-rendering="geometricPrecision" textLength="22.5" lengthAdjust="spacingAndGlyphs">64.20</text>
<rect x="1239" y="163" width="2" height="1" fill="#000"/>
<text x="1244.3" y="167" font-size="10" fill="#000" stroke="#000" stroke-width="0.1" text-rendering="geometricPrecision" textLength="22.5" lengthAdjust="spacingAndGlyphs">63.25</text>
<rect x="1239" y="196" width="2" height="1" fill="#000"/>
<text x="1244.3" y="200" font-size="10" fill="#000" stroke="#000" stroke-width="0.1" text-rendering="geometricPrecision" textLength="22.5" lengthAdjust="spacingAndGlyphs">62.30</text>
<rect x="1239" y="229" width="2" height="1" fill="#000"/>
<text x="1244.3" y="233" font-size="10" fill="#000" stroke="#000" stroke-width="0.1" text-rendering="geometricPrecision" textLength="22.5" lengthAdjust="spacingAndGlyphs">61.35</text>
<rect x="1239" y="262" width="2" height="1" fill="#000"/>
<text x="1244.3" y="266" font-size="10" fill="#000" stroke="#000" stroke-width="0.1" text-rendering="geometricPrecision" textLength="22.5" lengthAdjust="spacingAndGlyphs">60.40</text>
<rect x="1239" y="295" width="2" height="1" fill="#000"/>
<text x="1244.3" y="299" font-size="10" fill="#000" stroke="#000" stroke-width="0.1" text-rendering="geometricPrecision" textLength="22.5" lengthAdjust="spacingAndGlyphs">59.45</text>
<rect x="1239" y="328" width="2" height="1" fill="#000"/>
<text x="1244.3" y="332" font-size="10" fill="#000" stroke="#000" stroke-width="0.1" text-rendering="geometricPrecision" textLength="22.5" lengthAdjust="spacingAndGlyphs">58.50</text>
<rect x="1239" y="361" width="2" height="1" fill="#000"/>
<text x="1244.3" y="365" font-size="10" fill="#000" stroke="#000" stroke-width="0.1" text-rendering="geometricPrecision" textLength="22.5" lengthAdjust="spacingAndGlyphs">57.55</text>
<rect x="1239" y="394" width="2" height="1" fill="#000"/>
<text x="1244.3" y="398" font-size="10" fill="#000" stroke="#000" stroke-width="0.1" text-rendering="geometricPrecision" textLength="22.5" lengthAdjust="spacingAndGlyphs">56.60</text>
<rect x="1239" y="427" width="2" height="1" fill="#000"/>
<text x="1244.3" y="431" font-size="10" fill="#000" stroke="#000" stroke-width="0.1" text-rendering="geometricPrecision" textLength="22.5" lengthAdjust="spacingAndGlyphs">55.65</text>
<rect x="1239" y="460" width="2" height="1" fill="#000"/>
<text x="1244.3" y="464" font-size="10" fill="#000" stroke="#000" stroke-width="0.1" text-rendering="geometricPrecision" textLength="22.5" lengthAdjust="spacingAndGlyphs">54.70</text>
<rect x="1240" y="347" width="31" height="11" fill="#dc143c"/>
<text x="1244.2" y="356" font-size="10" fill="#fff" stroke="#fff" stroke-width="0.1" text-rendering="geometricPrecision" textLength="23.2" lengthAdjust="spacingAndGlyphs">57.79</text>
<rect x="1240" y="385" width="31" height="11" fill="#000000"/>
<text x="1244.2" y="394" font-size="10" fill="#fff" stroke="#fff" stroke-width="0.1" text-rendering="geometricPrecision" textLength="23.2" lengthAdjust="spacingAndGlyphs">56.72</text>
<rect x="1240" y="397" width="31" height="11" fill="#3cb371"/>
<text x="1244.2" y="406" font-size="10" fill="#fff" stroke="#fff" stroke-width="0.1" text-rendering="geometricPrecision" textLength="23.2" lengthAdjust="spacingAndGlyphs">56.34</text>
<rect x="1240" y="443" width="31" height="11" fill="#3cb371"/>
<text x="1244.2" y="452" font-size="10" fill="#fff" stroke="#fff" stroke-width="0.1" text-rendering="geometricPrecision" textLength="23.2" lengthAdjust="spacingAndGlyphs">55.00</text>
<text x="9.4" y="16" font-size="10" fill="#000" stroke="#000" stroke-width="0.1" text-rendering="geometricPrecision" textLength="50.6" lengthAdjust="spacingAndGlyphs">OILUSD,H4</text>
<text x="66.25" y="16" font-size="10" fill="#000" stroke="#000" stroke-width="0.1" text-rendering="geometricPrecision" textLength="100.35" lengthAdjust="spacingAndGlyphs">56.90 56.99 56.58 56.72</text>
<rect x="5" y="545" width="1" height="3" fill="#000"/>
<text x="4.5" y="557" font-size="10" fill="#000" stroke="#000" stroke-width="0.1" text-rendering="geometricPrecision" textLength="52.5" lengthAdjust="spacingAndGlyphs">26 Aug 2025</text>
<rect x="69" y="545" width="1" height="3" fill="#000"/>
<text x="68.5" y="557" font-size="10" fill="#000" stroke="#000" stroke-width="0.1" text-rendering="geometricPrecision" textLength="55.5" lengthAdjust="spacingAndGlyphs">29 Aug 04:00</text>
<rect x="133" y="545" width="1" height="3" fill="#000"/>
<text x="132.5" y="557" font-size="10" fill="#000" stroke="#000" stroke-width="0.1" text-rendering="geometricPrecision" textLength="49.25" lengthAdjust="spacingAndGlyphs">3 Sep 12:00</text>
<rect x="197" y="545" width="1" height="3" fill="#000"/>
<text x="196.5" y="557" font-size="10" fill="#000" stroke="#000" stroke-width="0.1" text-rendering="geometricPrecision" textLength="49.5" lengthAdjust="spacingAndGlyphs">8 Sep 04:00</text>
<rect x="261" y="545" width="1" height="3" fill="#000"/>
<text x="260.5" y="557" font-size="10" fill="#000" stroke="#000" stroke-width="0.1" text-rendering="geometricPrecision" textLength="54.5" lengthAdjust="spacingAndGlyphs">10 Sep 20:00</text>
<rect x="325" y="545" width="1" height="3" fill="#000"/>
<text x="324.5" y="557" font-size="10" fill="#000" stroke="#000" stroke-width="0.1" text-rendering="geometricPrecision" textLength="54.25" lengthAdjust="spacingAndGlyphs">15 Sep 12:00</text>
<rect x="389" y="545" width="1" height="3" fill="#000"/>
<text x="388.5" y="557" font-size="10" fill="#000" stroke="#000" stroke-width="0.1" text-rendering="geometricPrecision" textLength="54.75" lengthAdjust="spacingAndGlyphs">18 Sep 04:00</text>
<rect x="453" y="545" width="1" height="3" fill="#000"/>
<text x="452.5" y="557" font-size="10" fill="#000" stroke="#000" stroke-width="0.1" text-rendering="geometricPrecision" textLength="54.75" lengthAdjust="spacingAndGlyphs">22 Sep 20:00</text>
<rect x="517" y="545" width="1" height="3" fill="#000"/>
<text x="516.5" y="557" font-size="10" fill="#000" stroke="#000" stroke-width="0.1" text-rendering="geometricPrecision" textLength="54.5" lengthAdjust="spacingAndGlyphs">25 Sep 12:00</text>
<rect x="581" y="545" width="1" height="3" fill="#000"/>
<text x="580.5" y="557" font-size="10" fill="#000" stroke="#000" stroke-width="0.1" text-rendering="geometricPrecision" textLength="54.5" lengthAdjust="spacingAndGlyphs">30 Sep 04:00</text>
<rect x="645" y="545" width="1" height="3" fill="#000"/>
<text x="644.5" y="557" font-size="10" fill="#000" stroke="#000" stroke-width="0.1" text-rendering="geometricPrecision" textLength="48" lengthAdjust="spacingAndGlyphs">2 Oct 20:00</text>
<rect x="709" y="545" width="1" height="3" fill="#000"/>
<text x="708.5" y="557" font-size="10" fill="#000" stroke="#000" stroke-width="0.1" text-rendering="geometricPrecision" textLength="48.5" lengthAdjust="spacingAndGlyphs">7 Oct 12:00</text>
<rect x="773" y="545" width="1" height="3" fill="#000"/>
<text x="772.5" y="557" font-size="10" fill="#000" stroke="#000" stroke-width="0.1" text-rendering="geometricPrecision" textLength="53.75" lengthAdjust="spacingAndGlyphs">10 Oct 04:00</text>
<rect x="837" y="545" width="1" height="3" fill="#000"/>
<text x="836.5" y="557" font-size="10" fill="#000" stroke="#000" stroke-width="0.1" text-rendering="geometricPrecision" textLength="53.25" lengthAdjust="spacingAndGlyphs">14 Oct 20:00</text>
<rect x="901" y="545" width="1" height="3" fill="#000"/>
<text x="900.5" y="557" font-size="10" fill="#000" stroke="#000" stroke-width="0.1" text-rendering="geometricPrecision" textLength="53.75" lengthAdjust="spacingAndGlyphs">17 Oct 12:00</text>
<line x1="6" y1="483.5" x2="1237" y2="483.5" stroke="#c0c0c0" stroke-dasharray="3 3" shape-rendering="crispEdges"/>
<line x1="6" y1="528.5" x2="1237" y2="528.5" stroke="#c0c0c0" stroke-dasharray="3 3" shape-rendering="crispEdges"/>
<path d="M105 471h1v1h-1zM725 471h3v1h-3zM105 472h1v1h-1zM725 472h1v1h-1zM728 472h2v1h-2zM105 473h2v1h-2zM681 473h1v1h-1zM724 473h1v1h-1zM729 473h1v1h-1zM104 474h1v1h-1zM106 474h1v1h-1zM497 474h3v1h-3zM681 474h2v1h-2zM724 474h1v1h-1zM730 474h1v1h-1zM104 475h1v1h-1zM106 475h1v1h-1zM357 475h5v1h-5zM496 475h1v1h-1zM500 475h2v1h-2zM529 475h5v1h-5zM680 475h1v1h-1zM683 475h1v1h-1zM723 475h1v1h-1zM730 475h1v1h-1zM104 476h1v1h-1zM107 476h1v1h-1zM357 476h1v1h-1zM362 476h1v1h-1zM496 476h1v1h-1zM502 476h1v1h-1zM529 476h1v1h-1zM533 476h1v1h-1zM680 476h1v1h-1zM684 476h1v1h-1zM723 476h1v1h-1zM731 476h1v1h-1zM104 477h1v1h-1zM107 477h1v1h-1zM356 477h1v1h-1zM363 477h1v1h-1zM495 477h1v1h-1zM503 477h1v1h-1zM529 477h1v1h-1zM534 477h1v1h-1zM680 477h1v1h-1zM685 477h1v1h-1zM722 477h1v1h-1zM731 477h1v1h-1zM103 478h1v1h-1zM107 478h1v1h-1zM356 478h1v1h-1zM363 478h1v1h-1zM495 478h1v1h-1zM504 478h1v1h-1zM528 478h1v1h-1zM534 478h1v1h-1zM680 478h1v1h-1zM686 478h1v1h-1zM722 478h1v1h-1zM731 478h1v1h-1zM103 479h1v1h-1zM108 479h1v1h-1zM355 479h1v1h-1zM364 479h1v1h-1zM473 479h3v1h-3zM494 479h1v1h-1zM505 479h1v1h-1zM528 479h1v1h-1zM534 479h1v1h-1zM679 479h1v1h-1zM687 479h1v1h-1zM721 479h1v1h-1zM732 479h1v1h-1zM103 480h1v1h-1zM108 480h1v1h-1zM355 480h1v1h-1zM365 480h1v1h-1zM471 480h2v1h-2zM476 480h3v1h-3zM494 480h1v1h-1zM506 480h2v1h-2zM528 480h1v1h-1zM535 480h1v1h-1zM679 480h1v1h-1zM688 480h1v1h-1zM721 480h1v1h-1zM732 480h1v1h-1zM103 481h1v1h-1zM108 481h1v1h-1zM354 481h1v1h-1zM365 481h1v1h-1zM469 481h2v1h-2zM479 481h2v1h-2zM484 481h3v1h-3zM493 481h1v1h-1zM508 481h1v1h-1zM528 481h1v1h-1zM535 481h1v1h-1zM679 481h1v1h-1zM689 481h1v1h-1zM720 481h1v1h-1zM733 481h1v1h-1zM37 482h1v1h-1zM102 482h1v1h-1zM109 482h1v1h-1zM354 482h1v1h-1zM366 482h1v1h-1zM469 482h1v1h-1zM481 482h3v1h-3zM487 482h2v1h-2zM491 482h2v1h-2zM509 482h1v1h-1zM528 482h1v1h-1zM536 482h1v1h-1zM679 482h1v1h-1zM690 482h1v1h-1zM720 482h1v1h-1zM733 482h1v1h-1zM37 483h2v1h-2zM102 483h1v1h-1zM109 483h1v1h-1zM353 483h1v1h-1zM366 483h1v1h-1zM469 483h1v1h-1zM489 483h2v1h-2zM510 483h1v1h-1zM527 483h1v1h-1zM536 483h1v1h-1zM678 483h1v1h-1zM690 483h1v1h-1zM719 483h1v1h-1zM734 483h1v1h-1zM36 484h1v1h-1zM39 484h1v1h-1zM102 484h1v1h-1zM110 484h2v1h-2zM353 484h1v1h-1zM366 484h1v1h-1zM469 484h1v1h-1zM510 484h1v1h-1zM527 484h1v1h-1zM536 484h1v1h-1zM678 484h1v1h-1zM691 484h1v1h-1zM719 484h1v1h-1zM735 484h1v1h-1zM36 485h1v1h-1zM39 485h1v1h-1zM102 485h1v1h-1zM112 485h1v1h-1zM352 485h1v1h-1zM367 485h1v1h-1zM468 485h1v1h-1zM511 485h1v1h-1zM527 485h1v1h-1zM537 485h1v1h-1zM678 485h1v1h-1zM691 485h1v1h-1zM718 485h1v1h-1zM735 485h1v1h-1zM36 486h1v1h-1zM40 486h1v1h-1zM101 486h1v1h-1zM113 486h1v1h-1zM261 486h2v1h-2zM352 486h1v1h-1zM367 486h1v1h-1zM468 486h1v1h-1zM511 486h1v1h-1zM527 486h1v1h-1zM537 486h2v1h-2zM678 486h1v1h-1zM692 486h1v1h-1zM718 486h1v1h-1zM736 486h1v1h-1zM909 486h1v1h-1zM36 487h1v1h-1zM41 487h1v1h-1zM101 487h1v1h-1zM114 487h1v1h-1zM260 487h1v1h-1zM263 487h2v1h-2zM333 487h1v1h-1zM351 487h1v1h-1zM368 487h1v1h-1zM468 487h1v1h-1zM512 487h1v1h-1zM527 487h1v1h-1zM539 487h2v1h-2zM677 487h1v1h-1zM692 487h1v1h-1zM717 487h1v1h-1zM737 487h1v1h-1zM909 487h3v1h-3zM35 488h1v1h-1zM41 488h1v1h-1zM65 488h1v1h-1zM101 488h1v1h-1zM114 488h1v1h-1zM121 488h1v1h-1zM201 488h1v1h-1zM260 488h1v1h-1zM265 488h1v1h-1zM331 488h2v1h-2zM334 488h1v1h-1zM341 488h1v1h-1zM351 488h1v1h-1zM368 488h1v1h-1zM468 488h1v1h-1zM512 488h1v1h-1zM526 488h1v1h-1zM541 488h1v1h-1zM677 488h1v1h-1zM693 488h1v1h-1zM701 488h1v1h-1zM717 488h1v1h-1zM737 488h1v1h-1zM909 488h1v1h-1zM912 488h1v1h-1zM35 489h1v1h-1zM42 489h1v1h-1zM64 489h1v1h-1zM66 489h1v1h-1zM101 489h1v1h-1zM115 489h1v1h-1zM120 489h1v1h-1zM122 489h1v1h-1zM201 489h2v1h-2zM259 489h1v1h-1zM266 489h1v1h-1zM329 489h2v1h-2zM335 489h1v1h-1zM340 489h1v1h-1zM342 489h1v1h-1zM350 489h1v1h-1zM368 489h1v1h-1zM468 489h1v1h-1zM513 489h1v1h-1zM526 489h1v1h-1zM541 489h1v1h-1zM676 489h1v1h-1zM694 489h1v1h-1zM700 489h1v1h-1zM702 489h1v1h-1zM716 489h1v1h-1zM737 489h1v1h-1zM909 489h1v1h-1zM913 489h1v1h-1zM35 490h1v1h-1zM42 490h1v1h-1zM62 490h2v1h-2zM66 490h1v1h-1zM101 490h1v1h-1zM115 490h1v1h-1zM119 490h1v1h-1zM123 490h1v1h-1zM201 490h2v1h-2zM259 490h1v1h-1zM266 490h1v1h-1zM329 490h1v1h-1zM336 490h1v1h-1zM338 490h2v1h-2zM343 490h1v1h-1zM350 490h1v1h-1zM369 490h1v1h-1zM468 490h1v1h-1zM513 490h1v1h-1zM526 490h1v1h-1zM542 490h1v1h-1zM675 490h1v1h-1zM695 490h1v1h-1zM699 490h1v1h-1zM703 490h1v1h-1zM716 490h1v1h-1zM738 490h1v1h-1zM809 490h1v1h-1zM908 490h1v1h-1zM914 490h1v1h-1zM937 490h1v1h-1zM35 491h1v1h-1zM42 491h1v1h-1zM61 491h1v1h-1zM67 491h1v1h-1zM100 491h1v1h-1zM116 491h1v1h-1zM119 491h1v1h-1zM124 491h1v1h-1zM200 491h1v1h-1zM203 491h1v1h-1zM258 491h1v1h-1zM267 491h1v1h-1zM328 491h1v1h-1zM337 491h1v1h-1zM343 491h1v1h-1zM349 491h1v1h-1zM369 491h1v1h-1zM467 491h1v1h-1zM513 491h1v1h-1zM526 491h1v1h-1zM542 491h1v1h-1zM674 491h1v1h-1zM696 491h1v1h-1zM698 491h1v1h-1zM704 491h1v1h-1zM716 491h1v1h-1zM738 491h1v1h-1zM809 491h1v1h-1zM908 491h1v1h-1zM914 491h1v1h-1zM936 491h1v1h-1zM34 492h1v1h-1zM43 492h1v1h-1zM60 492h1v1h-1zM68 492h1v1h-1zM100 492h1v1h-1zM116 492h1v1h-1zM118 492h1v1h-1zM125 492h1v1h-1zM200 492h1v1h-1zM203 492h1v1h-1zM258 492h1v1h-1zM267 492h1v1h-1zM328 492h1v1h-1zM344 492h1v1h-1zM347 492h2v1h-2zM370 492h1v1h-1zM467 492h1v1h-1zM513 492h1v1h-1zM526 492h1v1h-1zM543 492h1v1h-1zM673 492h1v1h-1zM697 492h1v1h-1zM705 492h5v1h-5zM715 492h1v1h-1zM738 492h1v1h-1zM808 492h1v1h-1zM810 492h1v1h-1zM908 492h1v1h-1zM915 492h1v1h-1zM936 492h1v1h-1zM34 493h1v1h-1zM43 493h1v1h-1zM60 493h1v1h-1zM68 493h1v1h-1zM100 493h1v1h-1zM117 493h1v1h-1zM125 493h1v1h-1zM200 493h1v1h-1zM204 493h1v1h-1zM229 493h1v1h-1zM257 493h1v1h-1zM268 493h1v1h-1zM327 493h1v1h-1zM345 493h2v1h-2zM370 493h1v1h-1zM467 493h1v1h-1zM514 493h1v1h-1zM525 493h1v1h-1zM543 493h1v1h-1zM673 493h1v1h-1zM710 493h1v1h-1zM715 493h1v1h-1zM738 493h1v1h-1zM808 493h1v1h-1zM810 493h1v1h-1zM908 493h1v1h-1zM915 493h1v1h-1zM935 493h1v1h-1zM34 494h1v1h-1zM44 494h1v1h-1zM59 494h1v1h-1zM69 494h3v1h-3zM100 494h1v1h-1zM125 494h1v1h-1zM200 494h1v1h-1zM204 494h1v1h-1zM229 494h2v1h-2zM256 494h1v1h-1zM268 494h1v1h-1zM327 494h1v1h-1zM371 494h1v1h-1zM467 494h1v1h-1zM514 494h1v1h-1zM525 494h1v1h-1zM544 494h1v1h-1zM673 494h1v1h-1zM710 494h1v1h-1zM715 494h1v1h-1zM739 494h1v1h-1zM807 494h1v1h-1zM811 494h1v1h-1zM908 494h1v1h-1zM916 494h1v1h-1zM935 494h1v1h-1zM34 495h1v1h-1zM44 495h1v1h-1zM59 495h1v1h-1zM72 495h6v1h-6zM100 495h1v1h-1zM126 495h1v1h-1zM199 495h1v1h-1zM205 495h1v1h-1zM228 495h1v1h-1zM231 495h1v1h-1zM254 495h2v1h-2zM269 495h1v1h-1zM326 495h1v1h-1zM371 495h1v1h-1zM467 495h1v1h-1zM514 495h1v1h-1zM525 495h1v1h-1zM544 495h1v1h-1zM672 495h1v1h-1zM711 495h1v1h-1zM714 495h1v1h-1zM739 495h1v1h-1zM807 495h1v1h-1zM811 495h1v1h-1zM852 495h2v1h-2zM908 495h1v1h-1zM916 495h1v1h-1zM934 495h1v1h-1zM33 496h1v1h-1zM44 496h1v1h-1zM58 496h1v1h-1zM77 496h1v1h-1zM99 496h1v1h-1zM126 496h1v1h-1zM199 496h1v1h-1zM205 496h1v1h-1zM228 496h1v1h-1zM231 496h1v1h-1zM253 496h1v1h-1zM269 496h1v1h-1zM326 496h1v1h-1zM372 496h1v1h-1zM467 496h1v1h-1zM514 496h1v1h-1zM525 496h1v1h-1zM545 496h1v1h-1zM672 496h1v1h-1zM711 496h1v1h-1zM714 496h1v1h-1zM739 496h1v1h-1zM806 496h1v1h-1zM812 496h1v1h-1zM849 496h3v1h-3zM853 496h1v1h-1zM907 496h1v1h-1zM917 496h1v1h-1zM934 496h1v1h-1zM33 497h1v1h-1zM45 497h1v1h-1zM58 497h1v1h-1zM78 497h1v1h-1zM99 497h1v1h-1zM126 497h1v1h-1zM199 497h1v1h-1zM205 497h1v1h-1zM228 497h1v1h-1zM232 497h1v1h-1zM252 497h1v1h-1zM269 497h1v1h-1zM325 497h1v1h-1zM372 497h1v1h-1zM466 497h1v1h-1zM515 497h1v1h-1zM524 497h1v1h-1zM545 497h1v1h-1zM672 497h1v1h-1zM712 497h1v1h-1zM714 497h1v1h-1zM739 497h1v1h-1zM806 497h1v1h-1zM812 497h1v1h-1zM848 497h1v1h-1zM854 497h1v1h-1zM907 497h1v1h-1zM917 497h1v1h-1zM933 497h1v1h-1zM33 498h1v1h-1zM45 498h1v1h-1zM57 498h1v1h-1zM78 498h1v1h-1zM99 498h1v1h-1zM126 498h1v1h-1zM199 498h1v1h-1zM206 498h1v1h-1zM227 498h1v1h-1zM233 498h1v1h-1zM251 498h1v1h-1zM270 498h1v1h-1zM305 498h1v1h-1zM325 498h1v1h-1zM373 498h1v1h-1zM466 498h1v1h-1zM515 498h1v1h-1zM524 498h1v1h-1zM546 498h1v1h-1zM672 498h1v1h-1zM712 498h2v1h-2zM740 498h1v1h-1zM805 498h1v1h-1zM813 498h1v1h-1zM848 498h1v1h-1zM854 498h1v1h-1zM907 498h1v1h-1zM917 498h1v1h-1zM933 498h1v1h-1zM33 499h1v1h-1zM46 499h1v1h-1zM57 499h1v1h-1zM79 499h1v1h-1zM99 499h1v1h-1zM127 499h1v1h-1zM198 499h1v1h-1zM206 499h1v1h-1zM227 499h1v1h-1zM233 499h1v1h-1zM251 499h1v1h-1zM270 499h1v1h-1zM304 499h1v1h-1zM306 499h1v1h-1zM324 499h1v1h-1zM373 499h1v1h-1zM466 499h1v1h-1zM515 499h1v1h-1zM524 499h1v1h-1zM547 499h1v1h-1zM671 499h1v1h-1zM713 499h1v1h-1zM740 499h1v1h-1zM804 499h1v1h-1zM813 499h1v1h-1zM847 499h1v1h-1zM854 499h1v1h-1zM907 499h1v1h-1zM918 499h1v1h-1zM932 499h1v1h-1zM32 500h1v1h-1zM46 500h1v1h-1zM57 500h1v1h-1zM79 500h1v1h-1zM99 500h1v1h-1zM127 500h1v1h-1zM169 500h1v1h-1zM198 500h1v1h-1zM207 500h1v1h-1zM227 500h1v1h-1zM234 500h1v1h-1zM250 500h1v1h-1zM270 500h1v1h-1zM303 500h1v1h-1zM306 500h1v1h-1zM324 500h1v1h-1zM374 500h1v1h-1zM466 500h1v1h-1zM515 500h1v1h-1zM523 500h1v1h-1zM547 500h1v1h-1zM671 500h1v1h-1zM740 500h1v1h-1zM757 500h1v1h-1zM804 500h1v1h-1zM814 500h1v1h-1zM847 500h1v1h-1zM854 500h1v1h-1zM907 500h1v1h-1zM918 500h1v1h-1zM932 500h1v1h-1zM32 501h1v1h-1zM47 501h1v1h-1zM56 501h1v1h-1zM79 501h1v1h-1zM99 501h1v1h-1zM127 501h1v1h-1zM168 501h1v1h-1zM170 501h2v1h-2zM198 501h1v1h-1zM207 501h1v1h-1zM226 501h1v1h-1zM234 501h1v1h-1zM249 501h1v1h-1zM271 501h1v1h-1zM303 501h1v1h-1zM307 501h1v1h-1zM323 501h1v1h-1zM374 501h1v1h-1zM466 501h1v1h-1zM516 501h1v1h-1zM523 501h1v1h-1zM548 501h1v1h-1zM671 501h1v1h-1zM740 501h1v1h-1zM756 501h2v1h-2zM803 501h1v1h-1zM814 501h1v1h-1zM846 501h1v1h-1zM855 501h1v1h-1zM907 501h1v1h-1zM918 501h1v1h-1zM931 501h1v1h-1zM32 502h1v1h-1zM47 502h1v1h-1zM56 502h1v1h-1zM80 502h1v1h-1zM98 502h1v1h-1zM127 502h1v1h-1zM167 502h1v1h-1zM172 502h1v1h-1zM198 502h1v1h-1zM207 502h1v1h-1zM226 502h1v1h-1zM235 502h1v1h-1zM248 502h1v1h-1zM271 502h1v1h-1zM302 502h1v1h-1zM307 502h1v1h-1zM322 502h1v1h-1zM375 502h1v1h-1zM466 502h1v1h-1zM516 502h1v1h-1zM523 502h1v1h-1zM549 502h1v1h-1zM671 502h1v1h-1zM741 502h1v1h-1zM755 502h1v1h-1zM757 502h1v1h-1zM803 502h1v1h-1zM815 502h1v1h-1zM846 502h1v1h-1zM855 502h1v1h-1zM906 502h1v1h-1zM919 502h1v1h-1zM931 502h1v1h-1zM32 503h1v1h-1zM48 503h1v1h-1zM56 503h1v1h-1zM80 503h1v1h-1zM98 503h1v1h-1zM128 503h1v1h-1zM166 503h1v1h-1zM173 503h3v1h-3zM197 503h1v1h-1zM208 503h1v1h-1zM226 503h1v1h-1zM235 503h1v1h-1zM246 503h2v1h-2zM272 503h1v1h-1zM301 503h1v1h-1zM308 503h1v1h-1zM322 503h1v1h-1zM375 503h1v1h-1zM465 503h1v1h-1zM516 503h1v1h-1zM523 503h1v1h-1zM549 503h1v1h-1zM670 503h1v1h-1zM741 503h1v1h-1zM754 503h1v1h-1zM758 503h1v1h-1zM802 503h1v1h-1zM816 503h1v1h-1zM845 503h1v1h-1zM855 503h1v1h-1zM906 503h1v1h-1zM919 503h1v1h-1zM931 503h1v1h-1zM32 504h1v1h-1zM48 504h1v1h-1zM56 504h1v1h-1zM81 504h1v1h-1zM98 504h1v1h-1zM128 504h1v1h-1zM165 504h1v1h-1zM176 504h2v1h-2zM197 504h1v1h-1zM208 504h1v1h-1zM225 504h1v1h-1zM236 504h1v1h-1zM245 504h1v1h-1zM272 504h1v1h-1zM301 504h1v1h-1zM308 504h1v1h-1zM321 504h1v1h-1zM376 504h1v1h-1zM465 504h1v1h-1zM516 504h1v1h-1zM522 504h1v1h-1zM550 504h1v1h-1zM670 504h1v1h-1zM741 504h1v1h-1zM753 504h1v1h-1zM758 504h1v1h-1zM802 504h1v1h-1zM816 504h1v1h-1zM844 504h1v1h-1zM855 504h1v1h-1zM906 504h1v1h-1zM919 504h1v1h-1zM930 504h1v1h-1zM32 505h1v1h-1zM49 505h1v1h-1zM55 505h1v1h-1zM81 505h1v1h-1zM98 505h1v1h-1zM128 505h1v1h-1zM165 505h1v1h-1zM177 505h1v1h-1zM197 505h1v1h-1zM209 505h1v1h-1zM225 505h1v1h-1zM236 505h1v1h-1zM245 505h1v1h-1zM272 505h1v1h-1zM301 505h1v1h-1zM309 505h1v1h-1zM320 505h1v1h-1zM376 505h1v1h-1zM465 505h1v1h-1zM517 505h1v1h-1zM522 505h1v1h-1zM550 505h1v1h-1zM670 505h1v1h-1zM742 505h1v1h-1zM752 505h1v1h-1zM758 505h1v1h-1zM801 505h1v1h-1zM817 505h1v1h-1zM842 505h2v1h-2zM856 505h1v1h-1zM906 505h1v1h-1zM920 505h1v1h-1zM930 505h1v1h-1zM31 506h1v1h-1zM49 506h1v1h-1zM55 506h1v1h-1zM81 506h1v1h-1zM98 506h1v1h-1zM128 506h1v1h-1zM164 506h1v1h-1zM178 506h1v1h-1zM197 506h1v1h-1zM209 506h1v1h-1zM224 506h1v1h-1zM237 506h1v1h-1zM244 506h1v1h-1zM273 506h1v1h-1zM300 506h1v1h-1zM309 506h1v1h-1zM319 506h1v1h-1zM377 506h1v1h-1zM380 506h2v1h-2zM465 506h1v1h-1zM517 506h1v1h-1zM522 506h1v1h-1zM550 506h1v1h-1zM670 506h1v1h-1zM742 506h1v1h-1zM752 506h1v1h-1zM758 506h1v1h-1zM801 506h1v1h-1zM817 506h1v1h-1zM841 506h1v1h-1zM856 506h1v1h-1zM906 506h1v1h-1zM920 506h1v1h-1zM929 506h1v1h-1zM31 507h1v1h-1zM50 507h1v1h-1zM55 507h1v1h-1zM81 507h1v1h-1zM97 507h1v1h-1zM129 507h1v1h-1zM164 507h1v1h-1zM178 507h1v1h-1zM196 507h1v1h-1zM209 507h1v1h-1zM224 507h1v1h-1zM237 507h1v1h-1zM244 507h1v1h-1zM273 507h1v1h-1zM300 507h1v1h-1zM310 507h1v1h-1zM318 507h1v1h-1zM377 507h3v1h-3zM381 507h1v1h-1zM464 507h1v1h-1zM517 507h3v1h-3zM521 507h1v1h-1zM551 507h1v1h-1zM669 507h1v1h-1zM743 507h1v1h-1zM751 507h1v1h-1zM758 507h1v1h-1zM801 507h1v1h-1zM817 507h1v1h-1zM840 507h1v1h-1zM856 507h1v1h-1zM906 507h1v1h-1zM920 507h1v1h-1zM929 507h1v1h-1zM31 508h1v1h-1zM50 508h1v1h-1zM55 508h1v1h-1zM82 508h1v1h-1zM97 508h1v1h-1zM129 508h1v1h-1zM164 508h1v1h-1zM178 508h1v1h-1zM196 508h1v1h-1zM209 508h1v1h-1zM223 508h1v1h-1zM237 508h1v1h-1zM244 508h1v1h-1zM273 508h1v1h-1zM300 508h1v1h-1zM311 508h1v1h-1zM317 508h1v1h-1zM382 508h1v1h-1zM464 508h1v1h-1zM520 508h2v1h-2zM551 508h1v1h-1zM668 508h2v1h-2zM743 508h1v1h-1zM750 508h1v1h-1zM759 508h1v1h-1zM800 508h1v1h-1zM818 508h1v1h-1zM840 508h1v1h-1zM856 508h1v1h-1zM905 508h1v1h-1zM921 508h1v1h-1zM928 508h1v1h-1zM31 509h1v1h-1zM51 509h1v1h-1zM54 509h1v1h-1zM82 509h1v1h-1zM97 509h1v1h-1zM129 509h1v1h-1zM163 509h1v1h-1zM179 509h1v1h-1zM196 509h1v1h-1zM210 509h1v1h-1zM222 509h1v1h-1zM238 509h1v1h-1zM243 509h1v1h-1zM274 509h1v1h-1zM300 509h1v1h-1zM312 509h1v1h-1zM315 509h2v1h-2zM382 509h1v1h-1zM457 509h1v1h-1zM463 509h1v1h-1zM551 509h1v1h-1zM665 509h3v1h-3zM744 509h1v1h-1zM750 509h1v1h-1zM759 509h1v1h-1zM800 509h1v1h-1zM818 509h1v1h-1zM839 509h1v1h-1zM857 509h1v1h-1zM869 509h1v1h-1zM905 509h1v1h-1zM921 509h1v1h-1zM928 509h1v1h-1zM31 510h1v1h-1zM51 510h1v1h-1zM54 510h1v1h-1zM82 510h1v1h-1zM97 510h1v1h-1zM129 510h1v1h-1zM163 510h1v1h-1zM179 510h1v1h-1zM195 510h1v1h-1zM210 510h1v1h-1zM222 510h1v1h-1zM238 510h1v1h-1zM243 510h1v1h-1zM274 510h1v1h-1zM300 510h1v1h-1zM313 510h2v1h-2zM382 510h1v1h-1zM455 510h2v1h-2zM458 510h1v1h-1zM463 510h1v1h-1zM551 510h1v1h-1zM664 510h1v1h-1zM744 510h1v1h-1zM748 510h2v1h-2zM759 510h1v1h-1zM800 510h1v1h-1zM818 510h1v1h-1zM838 510h1v1h-1zM857 510h1v1h-1zM869 510h3v1h-3zM905 510h1v1h-1zM922 510h1v1h-1zM927 510h1v1h-1zM31 511h1v1h-1zM51 511h1v1h-1zM54 511h1v1h-1zM82 511h1v1h-1zM97 511h1v1h-1zM130 511h1v1h-1zM163 511h1v1h-1zM179 511h1v1h-1zM195 511h1v1h-1zM210 511h1v1h-1zM221 511h1v1h-1zM239 511h1v1h-1zM243 511h1v1h-1zM274 511h1v1h-1zM300 511h1v1h-1zM382 511h1v1h-1zM453 511h2v1h-2zM459 511h1v1h-1zM462 511h1v1h-1zM552 511h1v1h-1zM663 511h1v1h-1zM745 511h3v1h-3zM759 511h1v1h-1zM800 511h1v1h-1zM818 511h1v1h-1zM838 511h1v1h-1zM857 511h1v1h-1zM868 511h1v1h-1zM872 511h1v1h-1zM905 511h1v1h-1zM923 511h1v1h-1zM927 511h1v1h-1zM30 512h1v1h-1zM52 512h1v1h-1zM54 512h1v1h-1zM83 512h1v1h-1zM97 512h1v1h-1zM130 512h1v1h-1zM163 512h1v1h-1zM179 512h1v1h-1zM195 512h1v1h-1zM210 512h1v1h-1zM220 512h1v1h-1zM239 512h1v1h-1zM242 512h1v1h-1zM275 512h1v1h-1zM299 512h1v1h-1zM383 512h1v1h-1zM453 512h1v1h-1zM460 512h1v1h-1zM462 512h1v1h-1zM552 512h1v1h-1zM629 512h2v1h-2zM662 512h1v1h-1zM759 512h1v1h-1zM799 512h1v1h-1zM819 512h1v1h-1zM837 512h1v1h-1zM858 512h1v1h-1zM868 512h1v1h-1zM873 512h1v1h-1zM905 512h1v1h-1zM923 512h1v1h-1zM926 512h1v1h-1zM30 513h1v1h-1zM52 513h2v1h-2zM83 513h1v1h-1zM96 513h1v1h-1zM130 513h1v1h-1zM162 513h1v1h-1zM180 513h1v1h-1zM195 513h1v1h-1zM211 513h1v1h-1zM220 513h1v1h-1zM240 513h1v1h-1zM242 513h1v1h-1zM275 513h1v1h-1zM299 513h1v1h-1zM383 513h1v1h-1zM452 513h1v1h-1zM461 513h1v1h-1zM552 513h1v1h-1zM628 513h1v1h-1zM631 513h2v1h-2zM661 513h1v1h-1zM760 513h1v1h-1zM799 513h1v1h-1zM819 513h1v1h-1zM836 513h1v1h-1zM859 513h1v1h-1zM867 513h1v1h-1zM874 513h1v1h-1zM904 513h1v1h-1zM924 513h1v1h-1zM926 513h1v1h-1zM30 514h1v1h-1zM53 514h1v1h-1zM83 514h1v1h-1zM96 514h1v1h-1zM130 514h1v1h-1zM162 514h1v1h-1zM180 514h1v1h-1zM194 514h1v1h-1zM211 514h1v1h-1zM219 514h1v1h-1zM240 514h1v1h-1zM242 514h1v1h-1zM276 514h1v1h-1zM299 514h1v1h-1zM383 514h1v1h-1zM452 514h1v1h-1zM553 514h1v1h-1zM628 514h1v1h-1zM633 514h1v1h-1zM660 514h1v1h-1zM760 514h1v1h-1zM799 514h1v1h-1zM819 514h1v1h-1zM836 514h1v1h-1zM859 514h1v1h-1zM867 514h1v1h-1zM875 514h1v1h-1zM904 514h1v1h-1zM925 514h1v1h-1zM30 515h1v1h-1zM53 515h1v1h-1zM83 515h1v1h-1zM96 515h1v1h-1zM131 515h1v1h-1zM162 515h1v1h-1zM180 515h1v1h-1zM194 515h1v1h-1zM211 515h1v1h-1zM218 515h1v1h-1zM241 515h1v1h-1zM276 515h1v1h-1zM299 515h1v1h-1zM384 515h1v1h-1zM452 515h1v1h-1zM553 515h1v1h-1zM627 515h1v1h-1zM634 515h1v1h-1zM660 515h1v1h-1zM760 515h1v1h-1zM799 515h1v1h-1zM819 515h1v1h-1zM835 515h1v1h-1zM860 515h1v1h-1zM866 515h1v1h-1zM875 515h1v1h-1zM904 515h1v1h-1zM30 516h1v1h-1zM84 516h1v1h-1zM96 516h1v1h-1zM131 516h1v1h-1zM161 516h1v1h-1zM181 516h1v1h-1zM194 516h1v1h-1zM211 516h1v1h-1zM218 516h1v1h-1zM241 516h1v1h-1zM276 516h1v1h-1zM299 516h1v1h-1zM384 516h1v1h-1zM451 516h1v1h-1zM554 516h1v1h-1zM597 516h2v1h-2zM626 516h1v1h-1zM635 516h1v1h-1zM659 516h1v1h-1zM760 516h1v1h-1zM798 516h1v1h-1zM819 516h1v1h-1zM834 516h1v1h-1zM861 516h2v1h-2zM866 516h1v1h-1zM876 516h1v1h-1zM903 516h1v1h-1zM30 517h1v1h-1zM84 517h1v1h-1zM96 517h1v1h-1zM131 517h1v1h-1zM161 517h1v1h-1zM181 517h1v1h-1zM193 517h1v1h-1zM212 517h1v1h-1zM217 517h1v1h-1zM277 517h1v1h-1zM299 517h1v1h-1zM384 517h1v1h-1zM437 517h3v1h-3zM451 517h1v1h-1zM555 517h1v1h-1zM596 517h1v1h-1zM599 517h2v1h-2zM604 517h2v1h-2zM626 517h1v1h-1zM635 517h1v1h-1zM659 517h1v1h-1zM760 517h1v1h-1zM798 517h1v1h-1zM820 517h1v1h-1zM834 517h1v1h-1zM863 517h3v1h-3zM877 517h1v1h-1zM903 517h1v1h-1zM29 518h1v1h-1zM84 518h1v1h-1zM96 518h1v1h-1zM131 518h1v1h-1zM161 518h1v1h-1zM181 518h1v1h-1zM193 518h1v1h-1zM212 518h1v1h-1zM216 518h1v1h-1zM277 518h1v1h-1zM298 518h1v1h-1zM384 518h1v1h-1zM436 518h1v1h-1zM440 518h2v1h-2zM450 518h1v1h-1zM555 518h1v1h-1zM595 518h1v1h-1zM601 518h3v1h-3zM606 518h1v1h-1zM625 518h1v1h-1zM636 518h1v1h-1zM658 518h1v1h-1zM761 518h1v1h-1zM798 518h1v1h-1zM820 518h1v1h-1zM833 518h1v1h-1zM865 518h1v1h-1zM877 518h1v1h-1zM903 518h1v1h-1zM29 519h1v1h-1zM84 519h1v1h-1zM96 519h1v1h-1zM132 519h1v1h-1zM160 519h1v1h-1zM182 519h1v1h-1zM193 519h1v1h-1zM212 519h1v1h-1zM216 519h1v1h-1zM278 519h1v1h-1zM298 519h1v1h-1zM385 519h1v1h-1zM436 519h1v1h-1zM442 519h1v1h-1zM450 519h1v1h-1zM556 519h1v1h-1zM594 519h1v1h-1zM607 519h1v1h-1zM625 519h1v1h-1zM637 519h1v1h-1zM658 519h1v1h-1zM761 519h1v1h-1zM798 519h1v1h-1zM820 519h1v1h-1zM833 519h1v1h-1zM878 519h1v1h-1zM903 519h1v1h-1zM29 520h1v1h-1zM85 520h1v1h-1zM95 520h1v1h-1zM132 520h1v1h-1zM160 520h1v1h-1zM182 520h1v1h-1zM192 520h1v1h-1zM212 520h1v1h-1zM215 520h1v1h-1zM278 520h1v1h-1zM298 520h1v1h-1zM385 520h1v1h-1zM405 520h1v1h-1zM435 520h1v1h-1zM442 520h1v1h-1zM450 520h1v1h-1zM557 520h1v1h-1zM593 520h1v1h-1zM608 520h1v1h-1zM624 520h1v1h-1zM637 520h1v1h-1zM657 520h1v1h-1zM761 520h1v1h-1zM797 520h1v1h-1zM820 520h1v1h-1zM832 520h1v1h-1zM878 520h1v1h-1zM902 520h1v1h-1zM29 521h1v1h-1zM85 521h1v1h-1zM95 521h1v1h-1zM132 521h1v1h-1zM160 521h1v1h-1zM182 521h1v1h-1zM192 521h1v1h-1zM213 521h2v1h-2zM279 521h1v1h-1zM298 521h1v1h-1zM385 521h1v1h-1zM404 521h2v1h-2zM435 521h1v1h-1zM443 521h1v1h-1zM449 521h1v1h-1zM557 521h1v1h-1zM592 521h1v1h-1zM609 521h1v1h-1zM624 521h1v1h-1zM638 521h1v1h-1zM656 521h1v1h-1zM762 521h1v1h-1zM797 521h1v1h-1zM821 521h1v1h-1zM832 521h1v1h-1zM878 521h1v1h-1zM902 521h1v1h-1zM29 522h1v1h-1zM85 522h1v1h-1zM95 522h1v1h-1zM132 522h1v1h-1zM160 522h1v1h-1zM183 522h1v1h-1zM192 522h1v1h-1zM213 522h2v1h-2zM279 522h1v1h-1zM298 522h1v1h-1zM386 522h1v1h-1zM404 522h1v1h-1zM406 522h1v1h-1zM434 522h1v1h-1zM444 522h1v1h-1zM449 522h1v1h-1zM558 522h1v1h-1zM591 522h1v1h-1zM610 522h1v1h-1zM623 522h1v1h-1zM638 522h1v1h-1zM655 522h1v1h-1zM762 522h1v1h-1zM797 522h1v1h-1zM821 522h1v1h-1zM832 522h1v1h-1zM878 522h1v1h-1zM902 522h1v1h-1zM28 523h1v1h-1zM85 523h1v1h-1zM95 523h1v1h-1zM133 523h1v1h-1zM159 523h1v1h-1zM183 523h1v1h-1zM191 523h1v1h-1zM213 523h1v1h-1zM280 523h1v1h-1zM298 523h1v1h-1zM386 523h1v1h-1zM397 523h1v1h-1zM403 523h1v1h-1zM406 523h1v1h-1zM434 523h1v1h-1zM444 523h1v1h-1zM447 523h2v1h-2zM558 523h1v1h-1zM590 523h1v1h-1zM610 523h1v1h-1zM623 523h1v1h-1zM638 523h1v1h-1zM654 523h1v1h-1zM763 523h1v1h-1zM797 523h1v1h-1zM821 523h1v1h-1zM831 523h1v1h-1zM879 523h1v1h-1zM901 523h1v1h-1zM28 524h1v1h-1zM86 524h1v1h-1zM95 524h1v1h-1zM133 524h1v1h-1zM159 524h1v1h-1zM184 524h1v1h-1zM191 524h1v1h-1zM280 524h1v1h-1zM297 524h1v1h-1zM387 524h1v1h-1zM397 524h3v1h-3zM402 524h1v1h-1zM407 524h1v1h-1zM433 524h1v1h-1zM445 524h2v1h-2zM559 524h1v1h-1zM589 524h1v1h-1zM611 524h1v1h-1zM623 524h1v1h-1zM638 524h1v1h-1zM653 524h1v1h-1zM763 524h1v1h-1zM796 524h1v1h-1zM822 524h1v1h-1zM831 524h1v1h-1zM879 524h1v1h-1zM901 524h1v1h-1zM28 525h1v1h-1zM86 525h1v1h-1zM95 525h1v1h-1zM133 525h1v1h-1zM159 525h1v1h-1zM184 525h1v1h-1zM190 525h1v1h-1zM281 525h1v1h-1zM297 525h1v1h-1zM387 525h1v1h-1zM396 525h1v1h-1zM400 525h1v1h-1zM402 525h1v1h-1zM407 525h1v1h-1zM432 525h1v1h-1zM559 525h1v1h-1zM589 525h1v1h-1zM611 525h1v1h-1zM622 525h1v1h-1zM639 525h1v1h-1zM653 525h1v1h-1zM764 525h1v1h-1zM796 525h1v1h-1zM823 525h1v1h-1zM830 525h1v1h-1zM879 525h1v1h-1zM901 525h1v1h-1zM28 526h1v1h-1zM86 526h1v1h-1zM95 526h1v1h-1zM133 526h1v1h-1zM158 526h1v1h-1zM184 526h1v1h-1zM190 526h1v1h-1zM281 526h1v1h-1zM297 526h1v1h-1zM388 526h1v1h-1zM396 526h1v1h-1zM401 526h1v1h-1zM407 526h1v1h-1zM430 526h2v1h-2zM560 526h1v1h-1zM588 526h1v1h-1zM612 526h1v1h-1zM622 526h1v1h-1zM639 526h1v1h-1zM652 526h1v1h-1zM764 526h1v1h-1zM795 526h1v1h-1zM823 526h1v1h-1zM830 526h1v1h-1zM879 526h1v1h-1zM900 526h1v1h-1zM27 527h1v1h-1zM86 527h1v1h-1zM94 527h1v1h-1zM134 527h1v1h-1zM158 527h1v1h-1zM185 527h1v1h-1zM190 527h1v1h-1zM282 527h1v1h-1zM297 527h1v1h-1zM388 527h1v1h-1zM396 527h1v1h-1zM408 527h1v1h-1zM429 527h1v1h-1zM560 527h1v1h-1zM588 527h1v1h-1zM612 527h1v1h-1zM621 527h1v1h-1zM639 527h1v1h-1zM652 527h1v1h-1zM765 527h1v1h-1zM795 527h1v1h-1zM824 527h1v1h-1zM830 527h1v1h-1zM880 527h1v1h-1zM900 527h1v1h-1zM27 528h1v1h-1zM87 528h1v1h-1zM94 528h1v1h-1zM134 528h1v1h-1zM158 528h1v1h-1zM185 528h3v1h-3zM189 528h1v1h-1zM282 528h1v1h-1zM296 528h1v1h-1zM389 528h1v1h-1zM395 528h1v1h-1zM408 528h1v1h-1zM427 528h2v1h-2zM561 528h1v1h-1zM587 528h1v1h-1zM613 528h1v1h-1zM621 528h1v1h-1zM639 528h1v1h-1zM651 528h1v1h-1zM766 528h2v1h-2zM794 528h1v1h-1zM825 528h3v1h-3zM829 528h1v1h-1zM880 528h1v1h-1zM900 528h1v1h-1zM5 529h1v1h-1zM27 529h1v1h-1zM87 529h1v1h-1zM94 529h1v1h-1zM134 529h1v1h-1zM158 529h1v1h-1zM188 529h2v1h-2zM283 529h1v1h-1zM296 529h1v1h-1zM389 529h1v1h-1zM395 529h1v1h-1zM409 529h1v1h-1zM425 529h2v1h-2zM561 529h1v1h-1zM587 529h1v1h-1zM613 529h3v1h-3zM619 529h2v1h-2zM640 529h1v1h-1zM651 529h1v1h-1zM768 529h1v1h-1zM794 529h1v1h-1zM828 529h2v1h-2zM880 529h1v1h-1zM899 529h1v1h-1zM6 530h1v1h-1zM27 530h1v1h-1zM87 530h1v1h-1zM94 530h1v1h-1zM134 530h1v1h-1zM157 530h1v1h-1zM284 530h1v1h-1zM296 530h1v1h-1zM390 530h1v1h-1zM395 530h1v1h-1zM409 530h3v1h-3zM424 530h1v1h-1zM562 530h1v1h-1zM586 530h1v1h-1zM616 530h3v1h-3zM640 530h1v1h-1zM651 530h1v1h-1zM769 530h6v1h-6zM781 530h2v1h-2zM793 530h1v1h-1zM880 530h1v1h-1zM899 530h1v1h-1zM6 531h1v1h-1zM26 531h1v1h-1zM88 531h1v1h-1zM94 531h1v1h-1zM135 531h1v1h-1zM157 531h1v1h-1zM284 531h1v1h-1zM296 531h1v1h-1zM390 531h1v1h-1zM395 531h1v1h-1zM412 531h2v1h-2zM423 531h1v1h-1zM563 531h1v1h-1zM586 531h1v1h-1zM640 531h1v1h-1zM650 531h1v1h-1zM775 531h2v1h-2zM779 531h2v1h-2zM783 531h2v1h-2zM792 531h1v1h-1zM881 531h1v1h-1zM899 531h1v1h-1zM7 532h1v1h-1zM26 532h1v1h-1zM88 532h1v1h-1zM94 532h1v1h-1zM135 532h1v1h-1zM156 532h1v1h-1zM285 532h1v1h-1zM295 532h1v1h-1zM391 532h1v1h-1zM394 532h1v1h-1zM414 532h1v1h-1zM423 532h1v1h-1zM563 532h1v1h-1zM585 532h1v1h-1zM640 532h1v1h-1zM650 532h1v1h-1zM777 532h2v1h-2zM785 532h2v1h-2zM791 532h1v1h-1zM881 532h1v1h-1zM899 532h1v1h-1zM7 533h1v1h-1zM26 533h1v1h-1zM88 533h1v1h-1zM94 533h1v1h-1zM135 533h1v1h-1zM156 533h1v1h-1zM286 533h1v1h-1zM295 533h1v1h-1zM391 533h1v1h-1zM394 533h1v1h-1zM415 533h1v1h-1zM422 533h1v1h-1zM564 533h1v1h-1zM585 533h1v1h-1zM641 533h1v1h-1zM644 533h4v1h-4zM649 533h1v1h-1zM787 533h2v1h-2zM790 533h1v1h-1zM882 533h1v1h-1zM898 533h1v1h-1zM8 534h1v1h-1zM26 534h1v1h-1zM88 534h1v1h-1zM93 534h1v1h-1zM136 534h1v1h-1zM155 534h1v1h-1zM286 534h1v1h-1zM295 534h1v1h-1zM392 534h1v1h-1zM394 534h1v1h-1zM415 534h1v1h-1zM421 534h1v1h-1zM565 534h1v1h-1zM583 534h2v1h-2zM641 534h3v1h-3zM648 534h2v1h-2zM789 534h1v1h-1zM883 534h1v1h-1zM898 534h1v1h-1zM8 535h1v1h-1zM13 535h1v1h-1zM25 535h1v1h-1zM89 535h1v1h-1zM93 535h1v1h-1zM136 535h1v1h-1zM155 535h1v1h-1zM287 535h1v1h-1zM295 535h1v1h-1zM392 535h2v1h-2zM416 535h1v1h-1zM419 535h2v1h-2zM566 535h1v1h-1zM581 535h2v1h-2zM883 535h1v1h-1zM898 535h1v1h-1zM9 536h1v1h-1zM11 536h2v1h-2zM14 536h1v1h-1zM25 536h1v1h-1zM89 536h3v1h-3zM93 536h1v1h-1zM136 536h1v1h-1zM154 536h1v1h-1zM287 536h1v1h-1zM294 536h1v1h-1zM393 536h1v1h-1zM417 536h2v1h-2zM566 536h1v1h-1zM580 536h1v1h-1zM884 536h1v1h-1zM897 536h1v1h-1zM9 537h2v1h-2zM15 537h1v1h-1zM25 537h1v1h-1zM92 537h2v1h-2zM136 537h1v1h-1zM154 537h1v1h-1zM288 537h1v1h-1zM294 537h1v1h-1zM567 537h1v1h-1zM579 537h1v1h-1zM885 537h1v1h-1zM893 537h5v1h-5zM16 538h1v1h-1zM23 538h2v1h-2zM137 538h1v1h-1zM153 538h1v1h-1zM288 538h1v1h-1zM294 538h1v1h-1zM567 538h1v1h-1zM578 538h1v1h-1zM886 538h2v1h-2zM892 538h1v1h-1zM17 539h6v1h-6zM137 539h3v1h-3zM152 539h1v1h-1zM289 539h1v1h-1zM294 539h1v1h-1zM568 539h1v1h-1zM577 539h1v1h-1zM888 539h1v1h-1zM890 539h2v1h-2zM140 540h3v1h-3zM150 540h2v1h-2zM289 540h3v1h-3zM293 540h1v1h-1zM568 540h1v1h-1zM575 540h2v1h-2zM889 540h1v1h-1zM143 541h2v1h-2zM148 541h2v1h-2zM292 541h2v1h-2zM569 541h1v1h-1zM572 541h3v1h-3zM145 542h3v1h-3zM569 542h3v1h-3z" fill="#6495ed"/>
<path d="M729 475h5v1h-5zM504 476h2v1h-2zM728 476h1v1h-1zM734 476h1v1h-1zM364 477h2v1h-2zM501 477h3v1h-3zM506 477h2v1h-2zM689 477h1v1h-1zM727 477h1v1h-1zM735 477h1v1h-1zM361 478h3v1h-3zM366 478h1v1h-1zM499 478h2v1h-2zM508 478h1v1h-1zM687 478h2v1h-2zM690 478h1v1h-1zM726 478h1v1h-1zM735 478h1v1h-1zM360 479h1v1h-1zM367 479h1v1h-1zM497 479h2v1h-2zM509 479h1v1h-1zM537 479h1v1h-1zM685 479h2v1h-2zM691 479h1v1h-1zM725 479h1v1h-1zM736 479h1v1h-1zM112 480h2v1h-2zM359 480h1v1h-1zM367 480h1v1h-1zM477 480h7v1h-7zM496 480h1v1h-1zM510 480h1v1h-1zM536 480h1v1h-1zM538 480h1v1h-1zM684 480h1v1h-1zM691 480h1v1h-1zM725 480h1v1h-1zM737 480h1v1h-1zM109 481h3v1h-3zM114 481h1v1h-1zM359 481h1v1h-1zM368 481h1v1h-1zM477 481h1v1h-1zM484 481h4v1h-4zM494 481h2v1h-2zM511 481h1v1h-1zM534 481h2v1h-2zM539 481h1v1h-1zM683 481h1v1h-1zM692 481h1v1h-1zM724 481h1v1h-1zM737 481h1v1h-1zM109 482h1v1h-1zM114 482h1v1h-1zM358 482h1v1h-1zM369 482h1v1h-1zM476 482h1v1h-1zM488 482h6v1h-6zM511 482h1v1h-1zM533 482h1v1h-1zM540 482h1v1h-1zM683 482h1v1h-1zM693 482h1v1h-1zM724 482h1v1h-1zM738 482h1v1h-1zM108 483h1v1h-1zM115 483h1v1h-1zM357 483h1v1h-1zM370 483h1v1h-1zM476 483h1v1h-1zM512 483h1v1h-1zM533 483h1v1h-1zM541 483h1v1h-1zM682 483h1v1h-1zM694 483h1v1h-1zM723 483h1v1h-1zM738 483h1v1h-1zM108 484h1v1h-1zM115 484h1v1h-1zM356 484h1v1h-1zM370 484h1v1h-1zM475 484h1v1h-1zM513 484h1v1h-1zM532 484h1v1h-1zM542 484h1v1h-1zM681 484h1v1h-1zM695 484h1v1h-1zM723 484h1v1h-1zM738 484h1v1h-1zM107 485h1v1h-1zM116 485h1v1h-1zM356 485h1v1h-1zM371 485h1v1h-1zM475 485h1v1h-1zM513 485h1v1h-1zM532 485h1v1h-1zM542 485h1v1h-1zM681 485h1v1h-1zM695 485h1v1h-1zM723 485h1v1h-1zM739 485h1v1h-1zM107 486h1v1h-1zM116 486h1v1h-1zM355 486h1v1h-1zM371 486h1v1h-1zM474 486h1v1h-1zM514 486h1v1h-1zM532 486h1v1h-1zM543 486h1v1h-1zM680 486h1v1h-1zM696 486h1v1h-1zM722 486h1v1h-1zM739 486h1v1h-1zM106 487h1v1h-1zM117 487h2v1h-2zM354 487h1v1h-1zM372 487h1v1h-1zM474 487h1v1h-1zM514 487h1v1h-1zM531 487h1v1h-1zM543 487h1v1h-1zM680 487h1v1h-1zM697 487h1v1h-1zM722 487h1v1h-1zM740 487h1v1h-1zM106 488h1v1h-1zM119 488h2v1h-2zM354 488h1v1h-1zM372 488h1v1h-1zM473 488h1v1h-1zM515 488h1v1h-1zM531 488h1v1h-1zM544 488h1v1h-1zM680 488h1v1h-1zM698 488h2v1h-2zM721 488h1v1h-1zM740 488h1v1h-1zM41 489h5v1h-5zM105 489h1v1h-1zM121 489h2v1h-2zM265 489h3v1h-3zM337 489h6v1h-6zM353 489h1v1h-1zM373 489h1v1h-1zM473 489h1v1h-1zM515 489h1v1h-1zM530 489h1v1h-1zM544 489h1v1h-1zM679 489h1v1h-1zM700 489h1v1h-1zM721 489h1v1h-1zM740 489h1v1h-1zM41 490h1v1h-1zM46 490h1v1h-1zM105 490h1v1h-1zM123 490h2v1h-2zM264 490h1v1h-1zM268 490h2v1h-2zM335 490h2v1h-2zM343 490h2v1h-2zM351 490h2v1h-2zM373 490h1v1h-1zM473 490h1v1h-1zM516 490h1v1h-1zM530 490h1v1h-1zM545 490h1v1h-1zM679 490h1v1h-1zM701 490h3v1h-3zM720 490h1v1h-1zM741 490h1v1h-1zM40 491h1v1h-1zM46 491h1v1h-1zM69 491h2v1h-2zM105 491h1v1h-1zM125 491h1v1h-1zM262 491h2v1h-2zM270 491h1v1h-1zM333 491h2v1h-2zM345 491h6v1h-6zM373 491h1v1h-1zM472 491h1v1h-1zM516 491h1v1h-1zM530 491h1v1h-1zM546 491h1v1h-1zM679 491h1v1h-1zM704 491h6v1h-6zM719 491h1v1h-1zM741 491h1v1h-1zM917 491h1v1h-1zM40 492h1v1h-1zM47 492h1v1h-1zM67 492h2v1h-2zM71 492h2v1h-2zM104 492h1v1h-1zM126 492h1v1h-1zM261 492h1v1h-1zM270 492h1v1h-1zM332 492h1v1h-1zM374 492h1v1h-1zM472 492h1v1h-1zM517 492h1v1h-1zM529 492h1v1h-1zM547 492h1v1h-1zM678 492h1v1h-1zM710 492h1v1h-1zM718 492h1v1h-1zM741 492h1v1h-1zM916 492h1v1h-1zM918 492h1v1h-1zM40 493h1v1h-1zM47 493h1v1h-1zM65 493h2v1h-2zM73 493h2v1h-2zM104 493h1v1h-1zM126 493h1v1h-1zM260 493h1v1h-1zM271 493h1v1h-1zM332 493h1v1h-1zM374 493h1v1h-1zM472 493h1v1h-1zM517 493h1v1h-1zM529 493h1v1h-1zM547 493h1v1h-1zM678 493h1v1h-1zM711 493h1v1h-1zM717 493h1v1h-1zM742 493h1v1h-1zM915 493h1v1h-1zM918 493h1v1h-1zM39 494h1v1h-1zM48 494h1v1h-1zM65 494h1v1h-1zM75 494h2v1h-2zM104 494h1v1h-1zM127 494h1v1h-1zM259 494h1v1h-1zM271 494h1v1h-1zM331 494h1v1h-1zM375 494h1v1h-1zM471 494h1v1h-1zM517 494h1v1h-1zM529 494h1v1h-1zM548 494h1v1h-1zM678 494h1v1h-1zM712 494h1v1h-1zM715 494h2v1h-2zM742 494h1v1h-1zM915 494h1v1h-1zM919 494h1v1h-1zM39 495h1v1h-1zM48 495h1v1h-1zM64 495h1v1h-1zM77 495h1v1h-1zM104 495h1v1h-1zM128 495h1v1h-1zM259 495h1v1h-1zM272 495h1v1h-1zM330 495h1v1h-1zM375 495h1v1h-1zM471 495h1v1h-1zM518 495h1v1h-1zM528 495h1v1h-1zM549 495h1v1h-1zM677 495h1v1h-1zM713 495h2v1h-2zM743 495h1v1h-1zM813 495h1v1h-1zM914 495h1v1h-1zM919 495h1v1h-1zM38 496h1v1h-1zM49 496h1v1h-1zM64 496h1v1h-1zM78 496h2v1h-2zM104 496h1v1h-1zM128 496h1v1h-1zM205 496h3v1h-3zM258 496h1v1h-1zM272 496h1v1h-1zM330 496h1v1h-1zM376 496h1v1h-1zM470 496h1v1h-1zM518 496h1v1h-1zM528 496h1v1h-1zM549 496h1v1h-1zM677 496h1v1h-1zM743 496h1v1h-1zM812 496h1v1h-1zM814 496h2v1h-2zM913 496h1v1h-1zM920 496h1v1h-1zM38 497h1v1h-1zM49 497h1v1h-1zM63 497h1v1h-1zM80 497h1v1h-1zM104 497h1v1h-1zM129 497h1v1h-1zM205 497h1v1h-1zM208 497h2v1h-2zM257 497h1v1h-1zM273 497h1v1h-1zM329 497h1v1h-1zM376 497h1v1h-1zM470 497h1v1h-1zM519 497h1v1h-1zM527 497h1v1h-1zM550 497h1v1h-1zM676 497h1v1h-1zM743 497h1v1h-1zM810 497h2v1h-2zM816 497h1v1h-1zM913 497h1v1h-1zM920 497h1v1h-1zM38 498h1v1h-1zM49 498h1v1h-1zM63 498h1v1h-1zM81 498h1v1h-1zM103 498h1v1h-1zM129 498h1v1h-1zM204 498h1v1h-1zM209 498h1v1h-1zM256 498h1v1h-1zM273 498h1v1h-1zM328 498h1v1h-1zM377 498h1v1h-1zM470 498h1v1h-1zM519 498h1v1h-1zM527 498h1v1h-1zM550 498h1v1h-1zM676 498h1v1h-1zM744 498h1v1h-1zM809 498h1v1h-1zM817 498h1v1h-1zM853 498h1v1h-1zM912 498h1v1h-1zM921 498h1v1h-1zM37 499h1v1h-1zM50 499h1v1h-1zM62 499h1v1h-1zM81 499h1v1h-1zM103 499h1v1h-1zM130 499h1v1h-1zM204 499h1v1h-1zM210 499h1v1h-1zM233 499h5v1h-5zM254 499h2v1h-2zM274 499h1v1h-1zM328 499h1v1h-1zM377 499h1v1h-1zM469 499h1v1h-1zM520 499h1v1h-1zM527 499h1v1h-1zM551 499h1v1h-1zM675 499h1v1h-1zM744 499h1v1h-1zM809 499h1v1h-1zM817 499h1v1h-1zM852 499h1v1h-1zM854 499h2v1h-2zM912 499h1v1h-1zM921 499h1v1h-1zM937 499h1v1h-1zM37 500h1v1h-1zM50 500h1v1h-1zM62 500h1v1h-1zM82 500h1v1h-1zM103 500h1v1h-1zM130 500h1v1h-1zM203 500h1v1h-1zM210 500h1v1h-1zM232 500h1v1h-1zM238 500h1v1h-1zM253 500h1v1h-1zM274 500h1v1h-1zM327 500h1v1h-1zM378 500h1v1h-1zM469 500h1v1h-1zM520 500h1v1h-1zM526 500h1v1h-1zM551 500h1v1h-1zM675 500h1v1h-1zM745 500h1v1h-1zM808 500h1v1h-1zM818 500h1v1h-1zM851 500h1v1h-1zM856 500h1v1h-1zM912 500h1v1h-1zM922 500h1v1h-1zM936 500h1v1h-1zM37 501h1v1h-1zM51 501h1v1h-1zM61 501h1v1h-1zM82 501h1v1h-1zM103 501h1v1h-1zM130 501h1v1h-1zM203 501h1v1h-1zM210 501h1v1h-1zM231 501h1v1h-1zM238 501h1v1h-1zM252 501h1v1h-1zM275 501h1v1h-1zM326 501h1v1h-1zM379 501h1v1h-1zM469 501h1v1h-1zM521 501h1v1h-1zM526 501h1v1h-1zM552 501h1v1h-1zM674 501h1v1h-1zM745 501h1v1h-1zM808 501h1v1h-1zM818 501h1v1h-1zM850 501h1v1h-1zM857 501h1v1h-1zM911 501h1v1h-1zM922 501h1v1h-1zM936 501h1v1h-1zM37 502h1v1h-1zM51 502h1v1h-1zM60 502h1v1h-1zM83 502h1v1h-1zM103 502h1v1h-1zM131 502h1v1h-1zM173 502h5v1h-5zM202 502h1v1h-1zM211 502h1v1h-1zM230 502h1v1h-1zM239 502h1v1h-1zM252 502h1v1h-1zM275 502h1v1h-1zM309 502h1v1h-1zM326 502h1v1h-1zM379 502h1v1h-1zM468 502h1v1h-1zM521 502h3v1h-3zM525 502h1v1h-1zM552 502h1v1h-1zM674 502h1v1h-1zM746 502h1v1h-1zM807 502h1v1h-1zM818 502h1v1h-1zM849 502h1v1h-1zM858 502h1v1h-1zM911 502h1v1h-1zM923 502h1v1h-1zM935 502h1v1h-1zM36 503h1v1h-1zM52 503h1v1h-1zM59 503h1v1h-1zM83 503h1v1h-1zM102 503h1v1h-1zM131 503h1v1h-1zM172 503h1v1h-1zM178 503h1v1h-1zM202 503h1v1h-1zM211 503h1v1h-1zM229 503h1v1h-1zM239 503h1v1h-1zM251 503h1v1h-1zM275 503h1v1h-1zM308 503h1v1h-1zM310 503h2v1h-2zM325 503h1v1h-1zM380 503h1v1h-1zM468 503h1v1h-1zM524 503h2v1h-2zM553 503h1v1h-1zM673 503h1v1h-1zM746 503h1v1h-1zM807 503h1v1h-1zM819 503h1v1h-1zM848 503h1v1h-1zM858 503h1v1h-1zM910 503h1v1h-1zM923 503h1v1h-1zM935 503h1v1h-1zM36 504h1v1h-1zM52 504h1v1h-1zM59 504h1v1h-1zM84 504h1v1h-1zM102 504h1v1h-1zM131 504h1v1h-1zM171 504h1v1h-1zM178 504h1v1h-1zM201 504h1v1h-1zM212 504h1v1h-1zM229 504h1v1h-1zM240 504h1v1h-1zM251 504h1v1h-1zM276 504h1v1h-1zM308 504h1v1h-1zM312 504h1v1h-1zM324 504h1v1h-1zM381 504h1v1h-1zM467 504h1v1h-1zM553 504h1v1h-1zM672 504h1v1h-1zM747 504h1v1h-1zM807 504h1v1h-1zM819 504h1v1h-1zM847 504h1v1h-1zM859 504h1v1h-1zM910 504h1v1h-1zM924 504h1v1h-1zM934 504h1v1h-1zM36 505h1v1h-1zM53 505h1v1h-1zM58 505h1v1h-1zM84 505h1v1h-1zM102 505h1v1h-1zM132 505h1v1h-1zM171 505h1v1h-1zM179 505h1v1h-1zM201 505h1v1h-1zM212 505h1v1h-1zM228 505h1v1h-1zM240 505h1v1h-1zM250 505h1v1h-1zM276 505h1v1h-1zM307 505h1v1h-1zM313 505h1v1h-1zM323 505h1v1h-1zM382 505h1v1h-1zM467 505h1v1h-1zM554 505h1v1h-1zM672 505h1v1h-1zM747 505h1v1h-1zM757 505h1v1h-1zM806 505h1v1h-1zM820 505h1v1h-1zM847 505h1v1h-1zM860 505h1v1h-1zM910 505h1v1h-1zM924 505h1v1h-1zM934 505h1v1h-1zM36 506h1v1h-1zM53 506h5v1h-5zM85 506h1v1h-1zM102 506h1v1h-1zM132 506h1v1h-1zM170 506h1v1h-1zM180 506h1v1h-1zM200 506h1v1h-1zM212 506h1v1h-1zM228 506h1v1h-1zM241 506h1v1h-1zM250 506h1v1h-1zM277 506h1v1h-1zM307 506h1v1h-1zM314 506h2v1h-2zM322 506h1v1h-1zM382 506h1v1h-1zM466 506h1v1h-1zM554 506h1v1h-1zM671 506h1v1h-1zM748 506h1v1h-1zM756 506h1v1h-1zM758 506h2v1h-2zM806 506h1v1h-1zM820 506h1v1h-1zM846 506h1v1h-1zM860 506h1v1h-1zM909 506h1v1h-1zM925 506h1v1h-1zM933 506h1v1h-1zM35 507h1v1h-1zM85 507h1v1h-1zM102 507h1v1h-1zM132 507h1v1h-1zM169 507h1v1h-1zM180 507h1v1h-1zM200 507h1v1h-1zM213 507h1v1h-1zM227 507h1v1h-1zM241 507h2v1h-2zM249 507h1v1h-1zM277 507h1v1h-1zM306 507h1v1h-1zM316 507h1v1h-1zM320 507h2v1h-2zM383 507h1v1h-1zM466 507h1v1h-1zM555 507h1v1h-1zM671 507h1v1h-1zM748 507h1v1h-1zM754 507h2v1h-2zM760 507h1v1h-1zM805 507h1v1h-1zM820 507h1v1h-1zM845 507h1v1h-1zM861 507h1v1h-1zM909 507h1v1h-1zM925 507h1v1h-1zM932 507h1v1h-1zM35 508h1v1h-1zM85 508h1v1h-1zM102 508h1v1h-1zM133 508h1v1h-1zM169 508h1v1h-1zM181 508h1v1h-1zM200 508h1v1h-1zM213 508h1v1h-1zM227 508h1v1h-1zM243 508h2v1h-2zM247 508h2v1h-2zM277 508h1v1h-1zM306 508h1v1h-1zM317 508h3v1h-3zM383 508h1v1h-1zM465 508h1v1h-1zM555 508h1v1h-1zM670 508h1v1h-1zM749 508h5v1h-5zM761 508h1v1h-1zM805 508h1v1h-1zM821 508h1v1h-1zM844 508h1v1h-1zM862 508h1v1h-1zM909 508h1v1h-1zM926 508h2v1h-2zM931 508h1v1h-1zM35 509h1v1h-1zM86 509h1v1h-1zM101 509h1v1h-1zM133 509h1v1h-1zM168 509h1v1h-1zM182 509h1v1h-1zM199 509h1v1h-1zM214 509h1v1h-1zM226 509h1v1h-1zM245 509h2v1h-2zM278 509h1v1h-1zM305 509h1v1h-1zM384 509h1v1h-1zM465 509h1v1h-1zM556 509h1v1h-1zM670 509h1v1h-1zM762 509h1v1h-1zM805 509h1v1h-1zM821 509h1v1h-1zM843 509h1v1h-1zM862 509h1v1h-1zM909 509h1v1h-1zM928 509h1v1h-1zM930 509h1v1h-1zM35 510h1v1h-1zM86 510h1v1h-1zM101 510h1v1h-1zM133 510h1v1h-1zM168 510h1v1h-1zM182 510h1v1h-1zM199 510h1v1h-1zM214 510h1v1h-1zM226 510h1v1h-1zM278 510h1v1h-1zM305 510h1v1h-1zM384 510h1v1h-1zM463 510h2v1h-2zM556 510h1v1h-1zM669 510h1v1h-1zM762 510h1v1h-1zM804 510h1v1h-1zM821 510h1v1h-1zM843 510h1v1h-1zM863 510h1v1h-1zM908 510h1v1h-1zM929 510h1v1h-1zM35 511h1v1h-1zM86 511h1v1h-1zM101 511h1v1h-1zM134 511h1v1h-1zM167 511h1v1h-1zM183 511h1v1h-1zM199 511h1v1h-1zM215 511h1v1h-1zM225 511h1v1h-1zM279 511h1v1h-1zM304 511h1v1h-1zM385 511h1v1h-1zM461 511h2v1h-2zM557 511h1v1h-1zM668 511h1v1h-1zM763 511h1v1h-1zM804 511h1v1h-1zM822 511h1v1h-1zM842 511h1v1h-1zM863 511h1v1h-1zM908 511h1v1h-1zM34 512h1v1h-1zM86 512h1v1h-1zM101 512h1v1h-1zM134 512h1v1h-1zM167 512h1v1h-1zM183 512h1v1h-1zM199 512h1v1h-1zM215 512h1v1h-1zM224 512h1v1h-1zM279 512h1v1h-1zM304 512h1v1h-1zM386 512h1v1h-1zM460 512h1v1h-1zM557 512h1v1h-1zM667 512h1v1h-1zM763 512h1v1h-1zM804 512h1v1h-1zM822 512h1v1h-1zM841 512h1v1h-1zM864 512h1v1h-1zM908 512h1v1h-1zM34 513h1v1h-1zM87 513h1v1h-1zM101 513h1v1h-1zM134 513h1v1h-1zM167 513h1v1h-1zM184 513h1v1h-1zM198 513h1v1h-1zM216 513h1v1h-1zM224 513h1v1h-1zM279 513h1v1h-1zM304 513h1v1h-1zM386 513h1v1h-1zM458 513h2v1h-2zM557 513h1v1h-1zM666 513h1v1h-1zM764 513h1v1h-1zM803 513h1v1h-1zM823 513h1v1h-1zM841 513h1v1h-1zM864 513h1v1h-1zM872 513h6v1h-6zM908 513h1v1h-1zM34 514h1v1h-1zM87 514h1v1h-1zM100 514h1v1h-1zM134 514h1v1h-1zM166 514h1v1h-1zM184 514h1v1h-1zM198 514h1v1h-1zM216 514h1v1h-1zM223 514h1v1h-1zM280 514h1v1h-1zM304 514h1v1h-1zM387 514h1v1h-1zM457 514h1v1h-1zM558 514h1v1h-1zM665 514h1v1h-1zM764 514h1v1h-1zM803 514h1v1h-1zM823 514h1v1h-1zM840 514h1v1h-1zM865 514h1v1h-1zM868 514h4v1h-4zM878 514h1v1h-1zM907 514h1v1h-1zM5 515h1v1h-1zM34 515h1v1h-1zM87 515h1v1h-1zM100 515h1v1h-1zM135 515h1v1h-1zM166 515h1v1h-1zM185 515h1v1h-1zM198 515h1v1h-1zM217 515h2v1h-2zM222 515h1v1h-1zM280 515h1v1h-1zM303 515h1v1h-1zM387 515h1v1h-1zM456 515h1v1h-1zM558 515h1v1h-1zM633 515h5v1h-5zM664 515h1v1h-1zM765 515h1v1h-1zM802 515h1v1h-1zM823 515h1v1h-1zM840 515h1v1h-1zM865 515h3v1h-3zM878 515h1v1h-1zM907 515h1v1h-1zM5 516h1v1h-1zM33 516h1v1h-1zM88 516h1v1h-1zM100 516h1v1h-1zM135 516h1v1h-1zM165 516h1v1h-1zM185 516h1v1h-1zM197 516h1v1h-1zM219 516h2v1h-2zM222 516h1v1h-1zM281 516h1v1h-1zM303 516h1v1h-1zM388 516h1v1h-1zM455 516h1v1h-1zM559 516h1v1h-1zM632 516h1v1h-1zM638 516h1v1h-1zM663 516h1v1h-1zM765 516h1v1h-1zM802 516h1v1h-1zM824 516h1v1h-1zM839 516h1v1h-1zM879 516h1v1h-1zM907 516h1v1h-1zM6 517h1v1h-1zM33 517h1v1h-1zM88 517h1v1h-1zM100 517h1v1h-1zM135 517h1v1h-1zM165 517h1v1h-1zM185 517h1v1h-1zM197 517h1v1h-1zM221 517h1v1h-1zM281 517h1v1h-1zM303 517h1v1h-1zM388 517h1v1h-1zM455 517h1v1h-1zM559 517h1v1h-1zM604 517h3v1h-3zM631 517h1v1h-1zM638 517h1v1h-1zM663 517h1v1h-1zM765 517h1v1h-1zM802 517h1v1h-1zM824 517h1v1h-1zM839 517h1v1h-1zM879 517h1v1h-1zM907 517h1v1h-1zM6 518h1v1h-1zM33 518h1v1h-1zM88 518h1v1h-1zM99 518h1v1h-1zM135 518h1v1h-1zM165 518h1v1h-1zM186 518h1v1h-1zM197 518h1v1h-1zM282 518h1v1h-1zM302 518h1v1h-1zM389 518h1v1h-1zM454 518h1v1h-1zM560 518h1v1h-1zM601 518h3v1h-3zM607 518h2v1h-2zM630 518h1v1h-1zM639 518h1v1h-1zM662 518h1v1h-1zM766 518h1v1h-1zM801 518h1v1h-1zM825 518h1v1h-1zM838 518h1v1h-1zM880 518h1v1h-1zM906 518h1v1h-1zM6 519h1v1h-1zM33 519h1v1h-1zM88 519h1v1h-1zM99 519h1v1h-1zM136 519h1v1h-1zM164 519h1v1h-1zM186 519h1v1h-1zM196 519h1v1h-1zM282 519h1v1h-1zM302 519h1v1h-1zM389 519h1v1h-1zM453 519h1v1h-1zM560 519h1v1h-1zM599 519h2v1h-2zM609 519h1v1h-1zM629 519h1v1h-1zM639 519h1v1h-1zM661 519h1v1h-1zM766 519h1v1h-1zM801 519h1v1h-1zM825 519h1v1h-1zM838 519h1v1h-1zM880 519h1v1h-1zM906 519h1v1h-1zM7 520h1v1h-1zM32 520h1v1h-1zM89 520h1v1h-1zM99 520h1v1h-1zM136 520h1v1h-1zM164 520h1v1h-1zM187 520h1v1h-1zM196 520h1v1h-1zM283 520h1v1h-1zM302 520h1v1h-1zM389 520h1v1h-1zM441 520h7v1h-7zM451 520h2v1h-2zM561 520h1v1h-1zM597 520h2v1h-2zM610 520h1v1h-1zM628 520h1v1h-1zM640 520h1v1h-1zM660 520h1v1h-1zM767 520h1v1h-1zM801 520h1v1h-1zM826 520h1v1h-1zM837 520h1v1h-1zM881 520h1v1h-1zM906 520h1v1h-1zM7 521h1v1h-1zM32 521h1v1h-1zM89 521h1v1h-1zM99 521h1v1h-1zM136 521h1v1h-1zM164 521h1v1h-1zM187 521h1v1h-1zM195 521h1v1h-1zM283 521h1v1h-1zM302 521h1v1h-1zM390 521h1v1h-1zM440 521h1v1h-1zM448 521h3v1h-3zM561 521h1v1h-1zM596 521h1v1h-1zM611 521h1v1h-1zM628 521h1v1h-1zM640 521h1v1h-1zM660 521h1v1h-1zM767 521h1v1h-1zM800 521h1v1h-1zM826 521h1v1h-1zM836 521h1v1h-1zM882 521h1v1h-1zM906 521h1v1h-1zM7 522h1v1h-1zM32 522h1v1h-1zM89 522h1v1h-1zM98 522h1v1h-1zM136 522h1v1h-1zM163 522h1v1h-1zM188 522h1v1h-1zM195 522h1v1h-1zM284 522h1v1h-1zM301 522h1v1h-1zM390 522h1v1h-1zM438 522h2v1h-2zM562 522h1v1h-1zM596 522h1v1h-1zM612 522h1v1h-1zM627 522h1v1h-1zM641 522h1v1h-1zM659 522h1v1h-1zM768 522h1v1h-1zM800 522h1v1h-1zM827 522h1v1h-1zM835 522h1v1h-1zM882 522h1v1h-1zM905 522h1v1h-1zM8 523h1v1h-1zM32 523h1v1h-1zM90 523h1v1h-1zM98 523h1v1h-1zM137 523h1v1h-1zM163 523h1v1h-1zM188 523h1v1h-1zM194 523h1v1h-1zM284 523h1v1h-1zM301 523h1v1h-1zM391 523h1v1h-1zM405 523h2v1h-2zM437 523h1v1h-1zM562 523h1v1h-1zM595 523h1v1h-1zM613 523h1v1h-1zM626 523h1v1h-1zM642 523h1v1h-1zM659 523h1v1h-1zM768 523h1v1h-1zM799 523h1v1h-1zM827 523h1v1h-1zM835 523h1v1h-1zM883 523h1v1h-1zM905 523h1v1h-1zM8 524h1v1h-1zM31 524h1v1h-1zM90 524h1v1h-1zM98 524h1v1h-1zM137 524h1v1h-1zM163 524h1v1h-1zM189 524h1v1h-1zM194 524h1v1h-1zM285 524h1v1h-1zM301 524h1v1h-1zM391 524h1v1h-1zM404 524h1v1h-1zM407 524h2v1h-2zM436 524h1v1h-1zM563 524h1v1h-1zM594 524h1v1h-1zM614 524h1v1h-1zM626 524h1v1h-1zM642 524h1v1h-1zM658 524h1v1h-1zM769 524h1v1h-1zM799 524h1v1h-1zM828 524h1v1h-1zM834 524h1v1h-1zM883 524h1v1h-1zM905 524h1v1h-1zM8 525h1v1h-1zM31 525h1v1h-1zM91 525h1v1h-1zM98 525h1v1h-1zM137 525h1v1h-1zM162 525h1v1h-1zM189 525h5v1h-5zM285 525h1v1h-1zM300 525h1v1h-1zM392 525h1v1h-1zM403 525h1v1h-1zM409 525h2v1h-2zM435 525h1v1h-1zM563 525h1v1h-1zM594 525h1v1h-1zM615 525h1v1h-1zM625 525h1v1h-1zM643 525h1v1h-1zM658 525h1v1h-1zM769 525h1v1h-1zM799 525h1v1h-1zM828 525h1v1h-1zM833 525h1v1h-1zM884 525h1v1h-1zM905 525h1v1h-1zM9 526h1v1h-1zM31 526h1v1h-1zM91 526h1v1h-1zM97 526h1v1h-1zM137 526h1v1h-1zM162 526h1v1h-1zM286 526h1v1h-1zM300 526h1v1h-1zM392 526h1v1h-1zM403 526h1v1h-1zM411 526h2v1h-2zM434 526h1v1h-1zM564 526h1v1h-1zM593 526h1v1h-1zM616 526h1v1h-1zM624 526h1v1h-1zM644 526h1v1h-1zM657 526h1v1h-1zM770 526h1v1h-1zM798 526h1v1h-1zM829 526h1v1h-1zM831 526h2v1h-2zM884 526h1v1h-1zM904 526h1v1h-1zM9 527h1v1h-1zM30 527h1v1h-1zM91 527h1v1h-1zM97 527h1v1h-1zM138 527h1v1h-1zM162 527h1v1h-1zM286 527h1v1h-1zM300 527h1v1h-1zM393 527h1v1h-1zM402 527h1v1h-1zM413 527h1v1h-1zM433 527h1v1h-1zM564 527h1v1h-1zM592 527h1v1h-1zM617 527h2v1h-2zM623 527h1v1h-1zM644 527h1v1h-1zM656 527h1v1h-1zM771 527h1v1h-1zM798 527h1v1h-1zM829 527h2v1h-2zM885 527h1v1h-1zM904 527h1v1h-1zM10 528h1v1h-1zM30 528h1v1h-1zM92 528h1v1h-1zM96 528h1v1h-1zM138 528h1v1h-1zM161 528h1v1h-1zM287 528h1v1h-1zM299 528h1v1h-1zM393 528h3v1h-3zM400 528h2v1h-2zM414 528h1v1h-1zM432 528h1v1h-1zM565 528h1v1h-1zM591 528h1v1h-1zM619 528h2v1h-2zM622 528h1v1h-1zM645 528h1v1h-1zM655 528h1v1h-1zM772 528h1v1h-1zM797 528h1v1h-1zM885 528h1v1h-1zM903 528h1v1h-1zM10 529h1v1h-1zM30 529h1v1h-1zM92 529h1v1h-1zM95 529h1v1h-1zM139 529h1v1h-1zM161 529h1v1h-1zM287 529h1v1h-1zM299 529h1v1h-1zM396 529h4v1h-4zM415 529h1v1h-1zM430 529h2v1h-2zM566 529h1v1h-1zM591 529h1v1h-1zM621 529h1v1h-1zM646 529h1v1h-1zM654 529h1v1h-1zM773 529h3v1h-3zM797 529h1v1h-1zM886 529h1v1h-1zM903 529h1v1h-1zM11 530h1v1h-1zM30 530h1v1h-1zM93 530h2v1h-2zM139 530h1v1h-1zM161 530h1v1h-1zM288 530h1v1h-1zM299 530h1v1h-1zM415 530h1v1h-1zM429 530h1v1h-1zM566 530h1v1h-1zM590 530h1v1h-1zM646 530h1v1h-1zM653 530h1v1h-1zM776 530h8v1h-8zM796 530h1v1h-1zM886 530h1v1h-1zM902 530h1v1h-1zM12 531h1v1h-1zM29 531h1v1h-1zM93 531h1v1h-1zM139 531h1v1h-1zM160 531h1v1h-1zM288 531h1v1h-1zM299 531h1v1h-1zM416 531h1v1h-1zM428 531h1v1h-1zM567 531h1v1h-1zM589 531h1v1h-1zM647 531h1v1h-1zM652 531h1v1h-1zM784 531h4v1h-4zM794 531h2v1h-2zM887 531h1v1h-1zM902 531h1v1h-1zM12 532h1v1h-1zM29 532h1v1h-1zM140 532h1v1h-1zM160 532h1v1h-1zM289 532h1v1h-1zM298 532h1v1h-1zM417 532h3v1h-3zM426 532h2v1h-2zM567 532h1v1h-1zM588 532h1v1h-1zM648 532h1v1h-1zM651 532h1v1h-1zM788 532h6v1h-6zM887 532h1v1h-1zM901 532h1v1h-1zM13 533h1v1h-1zM28 533h1v1h-1zM140 533h1v1h-1zM159 533h1v1h-1zM289 533h1v1h-1zM298 533h1v1h-1zM420 533h6v1h-6zM568 533h1v1h-1zM587 533h1v1h-1zM648 533h1v1h-1zM650 533h1v1h-1zM888 533h1v1h-1zM901 533h1v1h-1zM14 534h1v1h-1zM28 534h1v1h-1zM141 534h1v1h-1zM159 534h1v1h-1zM290 534h1v1h-1zM298 534h1v1h-1zM568 534h1v1h-1zM587 534h1v1h-1zM649 534h1v1h-1zM888 534h1v1h-1zM900 534h1v1h-1zM15 535h1v1h-1zM27 535h1v1h-1zM141 535h1v1h-1zM158 535h1v1h-1zM291 535h1v1h-1zM297 535h1v1h-1zM569 535h1v1h-1zM586 535h1v1h-1zM889 535h1v1h-1zM899 535h1v1h-1zM16 536h1v1h-1zM26 536h1v1h-1zM142 536h1v1h-1zM158 536h1v1h-1zM291 536h1v1h-1zM297 536h1v1h-1zM570 536h1v1h-1zM585 536h1v1h-1zM889 536h2v1h-2zM899 536h1v1h-1zM17 537h3v1h-3zM26 537h1v1h-1zM143 537h1v1h-1zM157 537h1v1h-1zM292 537h1v1h-1zM295 537h2v1h-2zM571 537h1v1h-1zM583 537h2v1h-2zM891 537h2v1h-2zM898 537h1v1h-1zM20 538h6v1h-6zM143 538h1v1h-1zM156 538h1v1h-1zM293 538h2v1h-2zM572 538h1v1h-1zM581 538h2v1h-2zM893 538h5v1h-5zM144 539h1v1h-1zM154 539h2v1h-2zM573 539h2v1h-2zM580 539h1v1h-1zM145 540h3v1h-3zM152 540h2v1h-2zM575 540h2v1h-2zM578 540h2v1h-2zM148 541h4v1h-4zM577 541h1v1h-1z" fill="#ff0000"/>
<text x="9" y="479" font-size="10" fill="#000" stroke="#000" stroke-width="0.1" text-rendering="geometricPrecision" textLength="112.3" lengthAdjust="spacingAndGlyphs">Sto(5,3,3) 72.4044 60.3639</text>
<rect x="1239" y="468" width="1" height="1" fill="#000"/>
<rect x="1239" y="543" width="1" height="1" fill="#000"/>
<text x="1242.5" y="477" font-size="10" fill="#000" stroke="#000" stroke-width="0.1" text-rendering="geometricPrecision" textLength="14.2" lengthAdjust="spacingAndGlyphs">100</text>
<text x="1241" y="487" font-size="10" fill="#000" stroke="#000" stroke-width="0.1" text-rendering="geometricPrecision" textLength="9.8" lengthAdjust="spacingAndGlyphs">80</text>
<text x="1241" y="532" font-size="10" fill="#000" stroke="#000" stroke-width="0.1" text-rendering="geometricPrecision" textLength="9.8" lengthAdjust="spacingAndGlyphs">20</text>
<text x="1241.9" y="541" font-size="10" fill="#000" stroke="#000" stroke-width="0.1" text-rendering="geometricPrecision" textLength="5.2" lengthAdjust="spacingAndGlyphs">0</text>
</svg>
</body></html>
